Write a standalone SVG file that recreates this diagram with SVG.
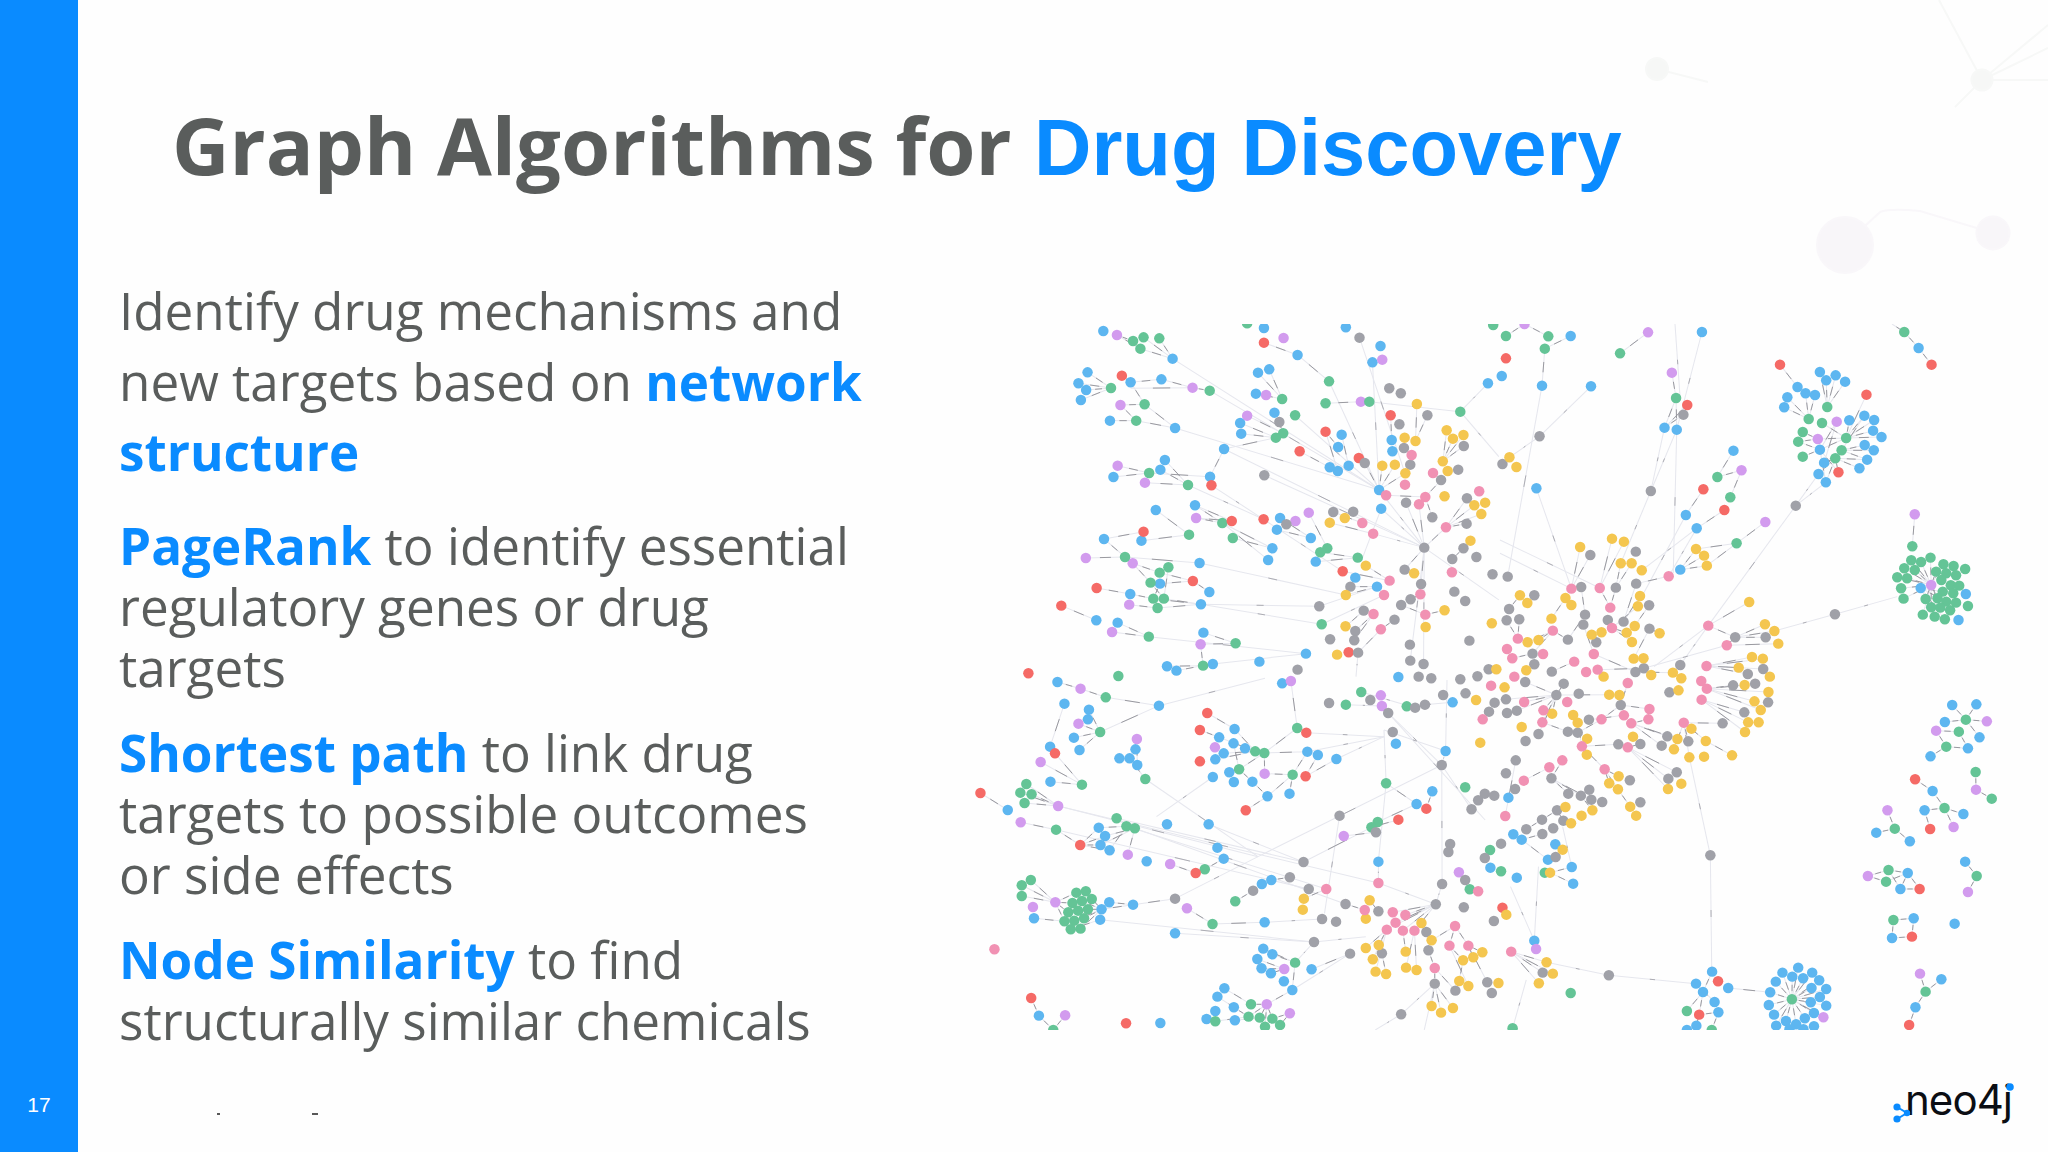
<svg xmlns="http://www.w3.org/2000/svg" width="2048" height="1152" viewBox="0 0 2048 1152">
<style>
.t{font-family:"Open Sans",sans-serif;fill:#5a5d5c}
.h{fill:#0a8bff;font-weight:700}
.b{fill:#5db6f0}.g{fill:#64c496}.r{fill:#f56a66}.p{fill:#d29bee}.a{fill:#a0a1a8}.y{fill:#f4c64f}.k{fill:#f191b3}
ellipse{rx:15px;ry:15.7px}
.edge{stroke:#e6e7ee;fill:none;stroke-width:3}
.lbl{stroke:#8f8f95;fill:none;stroke-width:2.6;stroke-dasharray:0 .36 .28 .36}
.lbl2{stroke:#a5a5ab;fill:none;stroke-width:2.6;stroke-dasharray:0 .47 .06 .47}
</style>
<defs><clipPath id="c"><rect x="950" y="324" width="1098" height="706"/></clipPath></defs>
<rect width="2048" height="1152" fill="#fefefe"/>
<g fill="#f6f7f6" stroke="#f7f8f7" stroke-width="2"><path d="M1657 69L1708 82M1982 80L1939 0M1982 80L2048 25M1982 80L2048 48M1982 80H2048M1982 80L1955 107" fill="none"/><circle cx="1657" cy="69" r="11"/><circle cx="1982" cy="80" r="10.5"/></g>
<g fill="#f8f6f9" stroke="#f9f7fa" stroke-width="2"><path d="M1865 226L1880 212Q1890 208 1920 211L1980 229" fill="none"/><circle cx="1845" cy="245" r="28"/><circle cx="1993" cy="233" r="16.5"/></g>
<rect width="78" height="1152" fill="#0a8bff"/>
<text x="39" y="1112" text-anchor="middle" font-family="Liberation Sans,sans-serif" font-size="21" fill="#fff">17</text>
<text x="172" y="175" class="t" font-size="79.5" font-weight="700">Graph Algorithms for <tspan x="1034" font-family="Liberation Sans,sans-serif" fill="#0a8bff">Drug Discovery</tspan></text>
<g font-size="51.2">
<text class="t" x="119" y="330">Identify drug mechanisms and</text>
<text class="t" x="119" y="401">new targets based on <tspan class="h">network</tspan></text>
<text class="t" x="119" y="471"><tspan class="h">structure</tspan></text>
<text class="t" x="119" y="565">
<tspan class="h">PageRank</tspan> to identify essential</text>
<text class="t" x="119" y="626">regulatory genes or drug</text>
<text class="t" x="119" y="687">targets</text>
<text class="t" x="119" y="772"><tspan class="h">Shortest path</tspan> to link drug</text>
<text class="t" x="119" y="833">targets to possible outcomes</text>
<text class="t" x="119" y="894">or side effects</text>
<text class="t" x="119" y="979"><tspan class="h">Node Similarity</tspan> to find</text>
<text class="t" x="119" y="1040">structurally similar chemicals</text>
</g>
<path d="M217 1114h3M312 1114h6" stroke="#222" stroke-width="1.5"/>
<g id="logo"><text x="1905" y="1115" font-family="Inter,sans-serif" font-size="42" font-weight="400" textLength="108" fill="#0b0e14">neo4j</text><circle cx="2010" cy="1087" r="3.8" fill="#0a8bff"/><path d="M1897 1107L1907 1113L1897 1119" stroke="#0a8bff" stroke-width="2" fill="none"/><g fill="#0a8bff"><circle cx="1897" cy="1107" r="3.6"/><circle cx="1907" cy="1113" r="3.2"/><circle cx="1897" cy="1119" r="3.6"/></g></g>
<g id="connectors" clip-path="url(#c)">
<g class="edge">
<g id="e1" transform="translate(950 300) scale(.35 .3333)">
<path pathLength="1" d="M477 105L544 146"/><path pathLength="1" d="M477 105L523 123"/><path pathLength="1" d="M553 112L636 176"/><path pathLength="1" d="M598 115L636 176"/><path pathLength="1" d="M544 146L636 176"/><path pathLength="1" d="M393 217L460 264"/><path pathLength="1" d="M367 250L460 264"/><path pathLength="1" d="M389 270L460 264"/><path pathLength="1" d="M374 300L460 264"/><path pathLength="1" d="M516 247L604 238"/><path pathLength="1" d="M516 247L556 313"/><path pathLength="1" d="M491 227L516 247"/><path pathLength="1" d="M604 238L693 263"/><path pathLength="1" d="M693 263L742 272"/><path pathLength="1" d="M516 265L693 263"/><path pathLength="1" d="M487 315L556 313"/><path pathLength="1" d="M487 315L532 362"/><path pathLength="1" d="M457 362L532 362"/><path pathLength="1" d="M532 362L643 384"/><path pathLength="1" d="M556 313L643 384"/><path pathLength="1" d="M880 218L949 297"/><path pathLength="1" d="M912 208L949 297"/><path pathLength="1" d="M874 281L949 297"/><path pathLength="1" d="M897 128L993 165"/><path pathLength="1" d="M993 165L1083 244"/><path pathLength="1" d="M849 347L952 400"/><path pathLength="1" d="M829 369L931 413"/><path pathLength="1" d="M832 401L931 413"/><path pathLength="1" d="M783 447L931 413"/><path pathLength="1" d="M783 447L743 530"/><path pathLength="1" d="M479 497L569 519"/><path pathLength="1" d="M467 531L569 519"/><path pathLength="1" d="M601 509L680 555"/><path pathLength="1" d="M614 480L680 555"/><path pathLength="1" d="M557 548L680 555"/><path pathLength="1" d="M569 519L743 530"/><path pathLength="1" d="M700 616L778 669"/><path pathLength="1" d="M703 654L778 669"/><path pathLength="1" d="M700 616L805 663"/><path pathLength="1" d="M703 654L805 663"/><path pathLength="1" d="M588 630L683 704"/><path pathLength="1" d="M553 695L440 717"/><path pathLength="1" d="M547 722L683 704"/><path pathLength="1" d="M440 717L500 771"/><path pathLength="1" d="M388 774L500 771"/><path pathLength="1" d="M522 790L599 818"/><path pathLength="1" d="M522 790L573 848"/><path pathLength="1" d="M500 771L713 789"/><path pathLength="1" d="M419 864L515 882"/><path pathLength="1" d="M515 882L581 896"/><path pathLength="1" d="M581 896L717 913"/><path pathLength="1" d="M512 914L593 924"/><path pathLength="1" d="M611 896L717 913"/><path pathLength="1" d="M593 924L717 913"/><path pathLength="1" d="M694 843L741 876"/><path pathLength="1" d="M694 843L600 851"/><path pathLength="1" d="M600 851L581 896"/><path pathLength="1" d="M573 848L611 896"/><path pathLength="1" d="M624 802L611 896"/><path pathLength="1" d="M599 818L694 843"/><path pathLength="1" d="M318 917L418 961"/><path pathLength="1" d="M463 996L568 1010"/><path pathLength="1" d="M479 968L568 1010"/><path pathLength="1" d="M724 998L816 1030"/><path pathLength="1" d="M716 1033L816 1030"/><path pathLength="1" d="M716 1033L723 1097"/><path pathLength="1" d="M620 1099L723 1097"/><path pathLength="1" d="M647 1112L723 1097"/><path pathLength="1" d="M1073 310L1174 305"/><path pathLength="1" d="M943 654L1031 714"/><path pathLength="1" d="M934 689L1031 714"/><path pathLength="1" d="M1025 638L1078 745"/><path pathLength="1" d="M921 745L808 714"/><path pathLength="1" d="M909 780L778 669"/><path pathLength="1" d="M921 745L778 669"/><path pathLength="1" d="M1045 785L1165 773"/><path pathLength="1" d="M1058 757L1165 773"/><path pathLength="1" d="M1085 502L999 454"/><path pathLength="1" d="M1108 513L1073 395"/><path pathLength="1" d="M1109 441L1073 395"/><path pathLength="1" d="M1119 404L1139 497"/><path pathLength="1" d="M1185 489L1226 570"/><path pathLength="1" d="M1226 570L1235 497"/><path pathLength="1" d="M1226 570L1271 494"/><path pathLength="1" d="M1226 570L1301 520"/><path pathLength="1" d="M1259 346L1262 420"/><path pathLength="1" d="M1334 312L1330 423"/><path pathLength="1" d="M1364 346L1330 423"/><path pathLength="1" d="M1419 391L1408 484"/><path pathLength="1" d="M1437 416L1408 484"/><path pathLength="1" d="M1467 405L1408 484"/><path pathLength="1" d="M1468 438L1408 484"/><path pathLength="1" d="M1246 586L1358 591"/><path pathLength="1" d="M1358 591L1403 540"/><path pathLength="1" d="M1358 591L1378 652"/><path pathLength="1" d="M1417 682L1477 595"/><path pathLength="1" d="M1417 682L1498 616"/><path pathLength="1" d="M1417 682L1518 642"/><path pathLength="1" d="M1417 682L1476 671"/><path pathLength="1" d="M1417 682L1355 743"/><path pathLength="1" d="M1355 743L1303 608"/><path pathLength="1" d="M1355 743L1340 613"/><path pathLength="1" d="M1355 743L1299 809"/><path pathLength="1" d="M1355 743L1346 852"/><path pathLength="1" d="M1467 745L1435 777"/><path pathLength="1" d="M1122 814L1256 842"/><path pathLength="1" d="M1144 860L1220 860"/><path pathLength="1" d="M1131 885L1220 860"/><path pathLength="1" d="M1188 797L1256 842"/><path pathLength="1" d="M1344 883L1316 898"/><path pathLength="1" d="M1289 915L1358 944"/><path pathLength="1" d="M1358 944L1413 931"/><path pathLength="1" d="M1182 932L1131 979"/><path pathLength="1" d="M1210 942L1158 993"/><path pathLength="1" d="M1210 942L1155 1021"/><path pathLength="1" d="M1231 988L1270 959"/><path pathLength="1" d="M1166 1058L1231 988"/><path pathLength="1" d="M1095 636L1178 669"/><path pathLength="1" d="M1085 668L1209 701"/>
</g>
<g id="f1" transform="translate(950 300) scale(.35 .3333)">
<path pathLength="1" d="M636 176L1226 570"/><path pathLength="1" d="M643 384L1226 570"/><path pathLength="1" d="M783 447L1355 743"/><path pathLength="1" d="M898 526L1355 743"/><path pathLength="1" d="M713 789L1131 885"/><path pathLength="1" d="M717 913L1055 919"/><path pathLength="1" d="M1055 919L1220 860"/><path pathLength="1" d="M1083 244L1226 570"/><path pathLength="1" d="M986 346L1226 570"/><path pathLength="1" d="M1207 187L1226 570"/><path pathLength="1" d="M1170 113L1300 520"/><path pathLength="1" d="M1198 305L1458 335"/><path pathLength="1" d="M1458 335L1568 470"/><path pathLength="1" d="M1537 250L1458 335"/><path pathLength="1" d="M742 272L1226 570"/><path pathLength="1" d="M568 1010L1017 1061"/><path pathLength="1" d="M680 555L896 658"/><path pathLength="1" d="M747 556L896 658"/><path pathLength="1" d="M896 658L1122 814"/><path pathLength="1" d="M1062 973L717 913"/><path pathLength="1" d="M1062 973L1240 885"/><path pathLength="1" d="M1226 570L1355 743"/><path pathLength="1" d="M1232 626L1355 743"/><path pathLength="1" d="M1232 626L1178 775"/><path pathLength="1" d="M1209 701L1355 743"/><path pathLength="1" d="M1355 743L1568 900"/><path pathLength="1" d="M1355 743L1315 1082"/><path pathLength="1" d="M1355 743L1353 1092"/><path pathLength="1" d="M751 1092L1017 1061"/><path pathLength="1" d="M1166 1058L1160 1130"/>
</g>
<g id="e2" transform="translate(1500 300) scale(.35 .3333)">
<path pathLength="1" d="M70 72L17 108"/><path pathLength="1" d="M70 72L138 109"/><path pathLength="1" d="M202 108L128 146"/><path pathLength="1" d="M128 146L120 257"/><path pathLength="1" d="M423 97L343 160"/><path pathLength="1" d="M491 218L503 294"/><path pathLength="1" d="M503 294L470 383"/><path pathLength="1" d="M503 294L505 389"/><path pathLength="1" d="M524 344L470 383"/><path pathLength="1" d="M535 315L470 383"/><path pathLength="1" d="M667 452L621 531"/><path pathLength="1" d="M621 531L690 511"/><path pathLength="1" d="M690 511L658 592"/><path pathLength="1" d="M581 568L531 645"/><path pathLength="1" d="M641 630L562 685"/><path pathLength="1" d="M758 666L676 730"/><path pathLength="1" d="M676 730L560 747"/><path pathLength="1" d="M676 730L591 797"/><path pathLength="1" d="M560 747L515 809"/><path pathLength="1" d="M583 767L515 809"/><path pathLength="1" d="M591 797L515 809"/><path pathLength="1" d="M800 194L850 261"/><path pathLength="1" d="M873 280L882 357"/><path pathLength="1" d="M900 285L882 357"/><path pathLength="1" d="M821 292L882 357"/><path pathLength="1" d="M812 322L882 357"/><path pathLength="1" d="M914 216L935 321"/><path pathLength="1" d="M932 241L935 321"/><path pathLength="1" d="M959 226L935 321"/><path pathLength="1" d="M986 245L935 321"/><path pathLength="1" d="M1047 284L989 414"/><path pathLength="1" d="M989 414L998 361"/><path pathLength="1" d="M989 414L1041 347"/><path pathLength="1" d="M989 414L1069 360"/><path pathLength="1" d="M989 414L1066 392"/><path pathLength="1" d="M989 414L1090 411"/><path pathLength="1" d="M976 451L1042 435"/><path pathLength="1" d="M976 451L1068 451"/><path pathLength="1" d="M976 451L1049 479"/><path pathLength="1" d="M958 475L1027 505"/><path pathLength="1" d="M958 475L1049 479"/><path pathLength="1" d="M976 451L1041 347"/><path pathLength="1" d="M908 417L865 396"/><path pathLength="1" d="M908 417L852 425"/><path pathLength="1" d="M914 449L865 470"/><path pathLength="1" d="M914 449L852 425"/><path pathLength="1" d="M914 449L989 414"/><path pathLength="1" d="M962 365L914 449"/><path pathLength="1" d="M962 365L926 488"/><path pathLength="1" d="M926 488L976 451"/><path pathLength="1" d="M910 522L958 475"/><path pathLength="1" d="M931 547L958 475"/><path pathLength="1" d="M967 517L958 475"/><path pathLength="1" d="M926 488L958 475"/><path pathLength="1" d="M914 449L967 517"/><path pathLength="1" d="M920 369L989 414"/><path pathLength="1" d="M931 547L914 449"/><path pathLength="1" d="M908 417L989 414"/><path pathLength="1" d="M1120 72L1155 96"/><path pathLength="1" d="M1155 96L1196 144"/><path pathLength="1" d="M1196 144L1233 194"/><path pathLength="1" d="M1185 643L1178 739"/><path pathLength="1" d="M1232 855L1175 781"/><path pathLength="1" d="M1232 855L1203 786"/><path pathLength="1" d="M1232 855L1230 773"/><path pathLength="1" d="M1232 855L1155 805"/><path pathLength="1" d="M1232 855L1185 810"/><path pathLength="1" d="M1232 855L1135 832"/><path pathLength="1" d="M1232 855L1163 835"/><path pathLength="1" d="M1232 855L1146 865"/><path pathLength="1" d="M1232 855L1153 896"/><path pathLength="1" d="M1232 855L1216 897"/><path pathLength="1" d="M1232 855L1250 895"/><path pathLength="1" d="M1232 855L1232 922"/><path pathLength="1" d="M1232 855L1208 944"/><path pathLength="1" d="M1232 855L1258 923"/><path pathLength="1" d="M1232 855L1267 793"/><path pathLength="1" d="M1232 855L1246 815"/><path pathLength="1" d="M1202 864L1242 950"/><path pathLength="1" d="M1202 864L1271 958"/><path pathLength="1" d="M1202 864L1275 905"/><path pathLength="1" d="M1202 864L1265 875"/><path pathLength="1" d="M229 741L204 866"/><path pathLength="1" d="M258 765L204 866"/><path pathLength="1" d="M320 716L285 864"/><path pathLength="1" d="M354 725L285 864"/><path pathLength="1" d="M345 790L331 863"/><path pathLength="1" d="M376 790L331 863"/><path pathLength="1" d="M482 829L389 851"/><path pathLength="1" d="M57 886L26 927"/><path pathLength="1" d="M187 894L147 956"/><path pathLength="1" d="M232 861L243 944"/><path pathLength="1" d="M285 864L315 923"/><path pathLength="1" d="M331 863L315 923"/><path pathLength="1" d="M389 851L353 965"/><path pathLength="1" d="M400 888L353 965"/><path pathLength="1" d="M394 919L320 984"/><path pathLength="1" d="M426 916L385 978"/><path pathLength="1" d="M238 974L268 1062"/><path pathLength="1" d="M243 944L194 1019"/><path pathLength="1" d="M151 992L110 1020"/><path pathLength="1" d="M151 992L79 1027"/><path pathLength="1" d="M151 992L93 1061"/><path pathLength="1" d="M151 992L194 1019"/><path pathLength="1" d="M275 1027L262 1004"/><path pathLength="1" d="M320 984L362 998"/><path pathLength="1" d="M320 984L377 1026"/><path pathLength="1" d="M427 986L456 1000"/><path pathLength="1" d="M427 986L382 1076"/><path pathLength="1" d="M595 977L672 1012"/><path pathLength="1" d="M648 1036L672 1012"/><path pathLength="1" d="M672 1012L759 1012"/><path pathLength="1" d="M672 1012L757 973"/><path pathLength="1" d="M672 1012L784 993"/><path pathLength="1" d="M648 1036L795 1031"/><path pathLength="1" d="M595 977L712 906"/><path pathLength="1" d="M590 1098L720 1071"/><path pathLength="1" d="M590 1098L751 1076"/><path pathLength="1" d="M590 1098L682 1103"/><path pathLength="1" d="M590 1098L752 1107"/><path pathLength="1" d="M590 1098L708 1122"/><path pathLength="1" d="M387 1116L268 1062"/><path pathLength="1" d="M411 1105L279 1109"/><path pathLength="1" d="M494 1118L387 1116"/><path pathLength="1" d="M51 1016L19 961"/><path pathLength="1" d="M51 1016L55 958"/><path pathLength="1" d="M35 1075L93 1061"/><path pathLength="1" d="M148 1115L212 1085"/>
</g>
<g id="f2" transform="translate(1500 300) scale(.35 .3333)">
<path pathLength="1" d="M577 96L505 389"/><path pathLength="1" d="M505 389L431 573"/><path pathLength="1" d="M470 383L431 573"/><path pathLength="1" d="M431 573L345 790"/><path pathLength="1" d="M120 257L22 830"/><path pathLength="1" d="M104 565L204 866"/><path pathLength="1" d="M113 409L260 259"/><path pathLength="1" d="M113 409L27 472"/><path pathLength="1" d="M845 617L595 977"/><path pathLength="1" d="M845 617L910 522"/><path pathLength="1" d="M845 617L931 547"/><path pathLength="1" d="M595 977L440 1100"/><path pathLength="1" d="M957 943L784 993"/><path pathLength="1" d="M957 943L1135 890"/><path pathLength="1" d="M562 685L405 811"/><path pathLength="1" d="M531 645L400 900"/><path pathLength="1" d="M562 685L482 829"/><path pathLength="1" d="M500 72L515 300"/><path pathLength="1" d="M0 760L204 866"/><path pathLength="1" d="M0 720L285 864"/><path pathLength="1" d="M595 977L515 1095"/><path pathLength="1" d="M648 1036L411 1105"/><path pathLength="1" d="M505 389L495 820"/>
</g>
<g id="e3" transform="translate(950 680) scale(.35 .3333)">
<path pathLength="1" d="M307 6L373 26"/><path pathLength="1" d="M373 26L445 52"/><path pathLength="1" d="M445 52L597 77"/><path pathLength="1" d="M327 71L286 200"/><path pathLength="1" d="M397 89L429 156"/><path pathLength="1" d="M367 131L429 156"/><path pathLength="1" d="M354 173L429 156"/><path pathLength="1" d="M370 210L429 156"/><path pathLength="1" d="M429 156L597 77"/><path pathLength="1" d="M259 246L377 314"/><path pathLength="1" d="M300 220L377 314"/><path pathLength="1" d="M287 305L377 314"/><path pathLength="1" d="M534 177L535 255"/><path pathLength="1" d="M484 235L535 255"/><path pathLength="1" d="M513 235L558 297"/><path pathLength="1" d="M735 99L813 147"/><path pathLength="1" d="M813 147L872 214"/><path pathLength="1" d="M714 150L769 172"/><path pathLength="1" d="M769 172L872 214"/><path pathLength="1" d="M810 190L826 268"/><path pathLength="1" d="M782 220L872 214"/><path pathLength="1" d="M758 238L872 214"/><path pathLength="1" d="M898 219L1021 215"/><path pathLength="1" d="M798 277L826 268"/><path pathLength="1" d="M864 305L826 268"/><path pathLength="1" d="M826 268L898 219"/><path pathLength="1" d="M899 281L898 219"/><path pathLength="1" d="M899 281L979 284"/><path pathLength="1" d="M979 284L1021 215"/><path pathLength="1" d="M1016 289L1051 225"/><path pathLength="1" d="M1016 289L1104 237"/><path pathLength="1" d="M979 284L970 341"/><path pathLength="1" d="M979 284L907 349"/><path pathLength="1" d="M907 349L864 305"/><path pathLength="1" d="M845 391L907 349"/><path pathLength="1" d="M992 144L898 219"/><path pathLength="1" d="M974 3L992 144"/><path pathLength="1" d="M87 339L165 390"/><path pathLength="1" d="M218 312L309 378"/><path pathLength="1" d="M201 338L309 378"/><path pathLength="1" d="M233 343L309 378"/><path pathLength="1" d="M213 369L309 378"/><path pathLength="1" d="M202 427L303 449"/><path pathLength="1" d="M372 495L425 443"/><path pathLength="1" d="M372 495L443 468"/><path pathLength="1" d="M372 495L430 495"/><path pathLength="1" d="M372 495L456 511"/><path pathLength="1" d="M504 439L425 443"/><path pathLength="1" d="M528 445L443 468"/><path pathLength="1" d="M528 445L430 495"/><path pathLength="1" d="M504 439L456 511"/><path pathLength="1" d="M528 445L508 524"/><path pathLength="1" d="M303 449L372 495"/><path pathLength="1" d="M629 552L702 579"/><path pathLength="1" d="M728 568L782 536"/><path pathLength="1" d="M231 600L301 667"/><path pathLength="1" d="M205 616L301 667"/><path pathLength="1" d="M205 648L301 667"/><path pathLength="1" d="M240 715L327 724"/><path pathLength="1" d="M301 667L361 638"/><path pathLength="1" d="M301 667L350 669"/><path pathLength="1" d="M301 667L338 697"/><path pathLength="1" d="M301 667L327 724"/><path pathLength="1" d="M433 688L388 634"/><path pathLength="1" d="M433 688L405 657"/><path pathLength="1" d="M433 688L377 663"/><path pathLength="1" d="M433 688L394 688"/><path pathLength="1" d="M433 688L366 692"/><path pathLength="1" d="M433 688L383 715"/><path pathLength="1" d="M433 688L355 722"/><path pathLength="1" d="M433 688L373 746"/><path pathLength="1" d="M429 719L345 748"/><path pathLength="1" d="M455 667L523 674"/><path pathLength="1" d="M433 688L523 674"/><path pathLength="1" d="M523 674L643 656"/><path pathLength="1" d="M677 685L750 732"/><path pathLength="1" d="M750 732L899 727"/><path pathLength="1" d="M866 632L815 664"/><path pathLength="1" d="M918 600L971 592"/><path pathLength="1" d="M1010 546L1204 442"/><path pathLength="1" d="M1204 442L1281 419"/><path pathLength="1" d="M1222 426L1333 372"/><path pathLength="1" d="M1217 457L1125 468"/><path pathLength="1" d="M1361 386L1378 334"/><path pathLength="1" d="M1333 372L1246 310"/><path pathLength="1" d="M1011 656L1075 627"/><path pathLength="1" d="M1130 672L1185 690"/><path pathLength="1" d="M1388 673L1265 697"/><path pathLength="1" d="M1388 673L1301 705"/><path pathLength="1" d="M1388 673L1273 728"/><path pathLength="1" d="M1388 673L1248 749"/><path pathLength="1" d="M1388 673L1294 752"/><path pathLength="1" d="M1388 673L1327 752"/><path pathLength="1" d="M1248 749L1225 795"/><path pathLength="1" d="M1248 749L1188 804"/><path pathLength="1" d="M1248 749L1208 838"/><path pathLength="1" d="M1294 752L1302 815"/><path pathLength="1" d="M1327 752L1303 863"/><path pathLength="1" d="M1327 752L1333 870"/><path pathLength="1" d="M1248 749L1216 875"/><path pathLength="1" d="M1234 820L1246 882"/><path pathLength="1" d="M1224 694L1199 661"/><path pathLength="1" d="M1443 738L1376 781"/><path pathLength="1" d="M1443 738L1427 797"/><path pathLength="1" d="M1443 738L1481 797"/><path pathLength="1" d="M1427 797L1466 841"/><path pathLength="1" d="M1481 797L1495 832"/><path pathLength="1" d="M1481 797L1521 817"/><path pathLength="1" d="M1385 864L1367 811"/><path pathLength="1" d="M1385 864L1385 911"/><path pathLength="1" d="M1385 911L1376 978"/><path pathLength="1" d="M1385 911L1403 998"/><path pathLength="1" d="M1385 911L1437 984"/><path pathLength="1" d="M1481 797L1535 907"/><path pathLength="1" d="M1466 841L1455 903"/><path pathLength="1" d="M1427 797L1481 918"/><path pathLength="1" d="M1385 864L1444 932"/><path pathLength="1" d="M1143 821L1033 868"/><path pathLength="1" d="M895 806L986 848"/><path pathLength="1" d="M921 823L986 848"/><path pathLength="1" d="M878 837L955 867"/><path pathLength="1" d="M890 865L955 867"/><path pathLength="1" d="M917 880L955 867"/><path pathLength="1" d="M986 848L978 930"/><path pathLength="1" d="M978 930L905 973"/><path pathLength="1" d="M905 973L860 973"/><path pathLength="1" d="M905 973L853 1010"/><path pathLength="1" d="M905 973L885 1013"/><path pathLength="1" d="M905 973L921 1016"/><path pathLength="1" d="M905 973L900 1040"/><path pathLength="1" d="M971 1000L943 1035"/><path pathLength="1" d="M971 1000L921 1016"/><path pathLength="1" d="M784 925L860 973"/><path pathLength="1" d="M764 950L853 1010"/><path pathLength="1" d="M811 982L853 1010"/><path pathLength="1" d="M758 1024L853 1010"/><path pathLength="1" d="M814 1021L885 1013"/><path pathLength="1" d="M232 954L254 1007"/><path pathLength="1" d="M254 1007L295 1050"/><path pathLength="1" d="M329 1006L295 1050"/>
</g>
<g id="f3" transform="translate(950 680) scale(.35 .3333)">
<path pathLength="1" d="M597 77L900 -5"/><path pathLength="1" d="M751 291L590 410"/><path pathLength="1" d="M1246 310L1240 150"/><path pathLength="1" d="M1252 99L1405 255"/><path pathLength="1" d="M1246 310L1224 545"/><path pathLength="1" d="M1405 255L1406 612"/><path pathLength="1" d="M1405 255L880 530"/><path pathLength="1" d="M880 530L643 656"/><path pathLength="1" d="M558 297L880 530"/><path pathLength="1" d="M739 433L1010 546"/><path pathLength="1" d="M309 378L880 530"/><path pathLength="1" d="M309 378L1224 609"/><path pathLength="1" d="M476 415L1010 546"/><path pathLength="1" d="M303 449L1025 627"/><path pathLength="1" d="M504 439L1075 627"/><path pathLength="1" d="M528 445L1130 672"/><path pathLength="1" d="M1224 545L1224 609"/><path pathLength="1" d="M1406 612L1388 673"/><path pathLength="1" d="M1405 255L1490 388"/><path pathLength="1" d="M1416 213L1405 255"/><path pathLength="1" d="M1416 213L1240 150"/><path pathLength="1" d="M1021 215L1240 170"/><path pathLength="1" d="M1018 158L1240 170"/><path pathLength="1" d="M1104 237L1240 170"/><path pathLength="1" d="M429 719L1040 786"/><path pathLength="1" d="M643 760L1040 786"/><path pathLength="1" d="M1040 786L1188 770"/><path pathLength="1" d="M986 848L1040 786"/><path pathLength="1" d="M978 930L1143 821"/><path pathLength="1" d="M1289 1003L1215 1050"/><path pathLength="1" d="M1385 911L1289 1003"/><path pathLength="1" d="M1385 911L1355 1050"/><path pathLength="1" d="M1224 609L1388 673"/><path pathLength="1" d="M1113 407L1070 700"/><path pathLength="1" d="M1420 0L1416 213"/><path pathLength="1" d="M1252 99L1529 420"/><path pathLength="1" d="M899 727L1063 717"/><path pathLength="1" d="M1305 79L1436 67"/><path pathLength="1" d="M1131 74L1234 78"/><path pathLength="1" d="M1175 36L1329 83"/>
</g>
<g id="e4" transform="translate(1500 680) scale(.35 .3333)">
<path pathLength="1" d="M1292 75L1331 119"/><path pathLength="1" d="M1361 73L1331 119"/><path pathLength="1" d="M1271 126L1331 119"/><path pathLength="1" d="M1391 124L1331 119"/><path pathLength="1" d="M1331 119L1370 172"/><path pathLength="1" d="M1246 152L1311 155"/><path pathLength="1" d="M1246 152L1275 200"/><path pathLength="1" d="M1311 155L1337 205"/><path pathLength="1" d="M1275 200L1337 205"/><path pathLength="1" d="M1275 200L1230 229"/><path pathLength="1" d="M1186 298L1236 333"/><path pathLength="1" d="M1236 333L1270 384"/><path pathLength="1" d="M1213 391L1270 384"/><path pathLength="1" d="M1270 384L1324 402"/><path pathLength="1" d="M1270 384L1296 441"/><path pathLength="1" d="M1213 391L1229 447"/><path pathLength="1" d="M1359 276L1360 329"/><path pathLength="1" d="M1360 329L1405 356"/><path pathLength="1" d="M1107 391L1128 446"/><path pathLength="1" d="M1075 458L1128 446"/><path pathLength="1" d="M1128 446L1171 484"/><path pathLength="1" d="M1051 588L1110 570"/><path pathLength="1" d="M1051 588L1103 605"/><path pathLength="1" d="M1110 570L1165 579"/><path pathLength="1" d="M1103 605L1165 579"/><path pathLength="1" d="M1110 570L1144 627"/><path pathLength="1" d="M1165 579L1144 627"/><path pathLength="1" d="M1165 579L1199 627"/><path pathLength="1" d="M1144 627L1199 627"/><path pathLength="1" d="M1329 545L1362 588"/><path pathLength="1" d="M1362 588L1337 636"/><path pathLength="1" d="M1124 720L1182 715"/><path pathLength="1" d="M1124 720L1120 774"/><path pathLength="1" d="M1182 715L1177 770"/><path pathLength="1" d="M1120 774L1177 770"/><path pathLength="1" d="M1200 881L1216 935"/><path pathLength="1" d="M1261 898L1216 935"/><path pathLength="1" d="M1216 935L1187 982"/><path pathLength="1" d="M1187 982L1169 1035"/><path pathLength="1" d="M834 958L852 863"/><path pathLength="1" d="M834 958L807 878"/><path pathLength="1" d="M834 958L892 878"/><path pathLength="1" d="M834 958L835 890"/><path pathLength="1" d="M834 958L866 895"/><path pathLength="1" d="M834 958L788 905"/><path pathLength="1" d="M834 958L912 901"/><path pathLength="1" d="M834 958L890 924"/><path pathLength="1" d="M834 958L932 927"/><path pathLength="1" d="M834 958L772 937"/><path pathLength="1" d="M834 958L914 951"/><path pathLength="1" d="M834 958L888 967"/><path pathLength="1" d="M834 958L932 977"/><path pathLength="1" d="M834 958L768 975"/><path pathLength="1" d="M834 958L783 1004"/><path pathLength="1" d="M834 958L897 999"/><path pathLength="1" d="M834 958L817 1023"/><path pathLength="1" d="M834 958L871 1015"/><path pathLength="1" d="M834 958L846 1033"/><path pathLength="1" d="M834 958L789 1037"/><path pathLength="1" d="M834 958L924 1012"/><path pathLength="1" d="M606 875L580 936"/><path pathLength="1" d="M560 911L613 966"/><path pathLength="1" d="M580 936L569 1004"/><path pathLength="1" d="M534 993L580 936"/><path pathLength="1" d="M569 1004L624 997"/><path pathLength="1" d="M569 1004L561 1037"/><path pathLength="1" d="M624 997L605 1050"/><path pathLength="1" d="M652 924L772 937"/><path pathLength="1" d="M32 815L133 847"/><path pathLength="1" d="M32 815L122 878"/><path pathLength="1" d="M32 815L151 881"/><path pathLength="1" d="M32 815L111 910"/><path pathLength="1" d="M161 45L17 58"/><path pathLength="1" d="M161 45L69 66"/><path pathLength="1" d="M161 45L48 92"/><path pathLength="1" d="M161 45L124 91"/><path pathLength="1" d="M161 45L149 101"/><path pathLength="1" d="M161 45L312 44"/><path pathLength="1" d="M161 45L121 127"/><path pathLength="1" d="M161 45L110 162"/><path pathLength="1" d="M161 45L72 6"/><path pathLength="1" d="M161 45L182 11"/><path pathLength="1" d="M365 9L345 75"/><path pathLength="1" d="M345 75L290 118"/><path pathLength="1" d="M345 75L427 87"/><path pathLength="1" d="M424 118L375 130"/><path pathLength="1" d="M354 106L254 119"/><path pathLength="1" d="M290 118L222 158"/><path pathLength="1" d="M194 155L121 127"/><path pathLength="1" d="M234 199L222 128"/><path pathLength="1" d="M234 199L338 193"/><path pathLength="1" d="M365 202L401 192"/><path pathLength="1" d="M375 130L478 169"/><path pathLength="1" d="M375 130L462 197"/><path pathLength="1" d="M375 130L507 177"/><path pathLength="1" d="M525 128L538 184"/><path pathLength="1" d="M525 128L497 208"/><path pathLength="1" d="M525 128L588 183"/><path pathLength="1" d="M525 128L636 130"/><path pathLength="1" d="M588 183L663 226"/><path pathLength="1" d="M541 232L525 128"/><path pathLength="1" d="M591 26L666 16"/><path pathLength="1" d="M591 26L699 15"/><path pathLength="1" d="M591 26L767 36"/><path pathLength="1" d="M591 26L727 64"/><path pathLength="1" d="M591 26L745 90"/><path pathLength="1" d="M576 59L698 97"/><path pathLength="1" d="M576 59L709 127"/><path pathLength="1" d="M576 59L700 156"/><path pathLength="1" d="M299 268L339 289"/><path pathLength="1" d="M299 268L312 310"/><path pathLength="1" d="M299 268L337 328"/><path pathLength="1" d="M234 199L299 268"/><path pathLength="1" d="M337 328L372 380"/><path pathLength="1" d="M365 202L505 277"/><path pathLength="1" d="M365 202L481 296"/><path pathLength="1" d="M365 202L480 327"/><path pathLength="1" d="M178 241L147 295"/><path pathLength="1" d="M141 262L68 302"/><path pathLength="1" d="M147 295L195 341"/><path pathLength="1" d="M147 295L231 347"/><path pathLength="1" d="M147 295L261 359"/><path pathLength="1" d="M163 391L120 419"/><path pathLength="1" d="M163 391L181 422"/><path pathLength="1" d="M231 347L264 391"/><path pathLength="1" d="M120 419L75 448"/><path pathLength="1" d="M121 462L62 479"/><path pathLength="1" d="M62 479L137 539"/><path pathLength="1" d="M143 578L205 561"/><path pathLength="1" d="M143 578L209 611"/><path pathLength="1" d="M15 408L45 241"/>
</g>
<g id="f4" transform="translate(1500 680) scale(.35 .3333)">
<path pathLength="1" d="M560 911L311 886"/><path pathLength="1" d="M311 886L133 847"/><path pathLength="1" d="M601 526L605 875"/><path pathLength="1" d="M601 526L541 232"/><path pathLength="1" d="M98 782L110 560"/><path pathLength="1" d="M98 782L30 620"/><path pathLength="1" d="M75 900L36 1045"/><path pathLength="1" d="M179 440L205 561"/>
</g>
</g>
<g class="lbl"><use href="#e1"/><use href="#e2"/><use href="#e3"/><use href="#e4"/></g>
<g class="lbl2"><use href="#f1"/><use href="#f2"/><use href="#f3"/><use href="#f4"/></g>
</g>
<g id="nodes" clip-path="url(#c)">
<g transform="translate(950 300) scale(.35 .3333)">
<g id="ab1"><ellipse class="b" cx="438" cy="93"/></g><g id="ab2"><ellipse class="b" cx="897" cy="84"/></g><g id="ab3"><ellipse class="b" cx="1131" cy="82"/></g><g id="ab4"><ellipse class="b" cx="1230" cy="138"/></g><g id="ab5"><ellipse class="b" cx="636" cy="176"/></g><g id="ab6"><ellipse class="b" cx="993" cy="165"/></g><g id="ab7"><ellipse class="b" cx="1207" cy="187"/></g><g id="ab8"><ellipse class="b" cx="393" cy="217"/></g><g id="ab9"><ellipse class="b" cx="367" cy="250"/></g><g id="ab10"><ellipse class="b" cx="389" cy="270"/></g><g id="ab11"><ellipse class="b" cx="374" cy="300"/></g><g id="ab12"><ellipse class="b" cx="516" cy="247"/></g><g id="ab13"><ellipse class="b" cx="604" cy="238"/></g><g id="ab14"><ellipse class="b" cx="880" cy="218"/></g><g id="ab15"><ellipse class="b" cx="912" cy="208"/></g><g id="ab16"><ellipse class="b" cx="1537" cy="250"/></g><g id="ab17"><ellipse class="b" cx="874" cy="281"/></g><g id="ab18"><ellipse class="b" cx="927" cy="338"/></g><g id="ab19"><ellipse class="b" cx="829" cy="369"/></g><g id="ab20"><ellipse class="b" cx="832" cy="401"/></g><g id="ab21"><ellipse class="b" cx="457" cy="362"/></g><g id="ab22"><ellipse class="b" cx="643" cy="384"/></g><g id="ab23"><ellipse class="b" cx="1119" cy="404"/></g><g id="ab24"><ellipse class="b" cx="1109" cy="441"/></g><g id="ab25"><ellipse class="b" cx="1262" cy="420"/></g><g id="ab26"><ellipse class="b" cx="1264" cy="454"/></g><g id="ab27"><ellipse class="b" cx="783" cy="447"/></g><g id="ab28"><ellipse class="b" cx="614" cy="480"/></g><g id="ab29"><ellipse class="b" cx="601" cy="509"/></g><g id="ab30"><ellipse class="b" cx="467" cy="531"/></g><g id="ab31"><ellipse class="b" cx="743" cy="530"/></g><g id="ab32"><ellipse class="b" cx="1085" cy="502"/></g><g id="ab33"><ellipse class="b" cx="1108" cy="513"/></g><g id="ab34"><ellipse class="b" cx="1139" cy="497"/></g><g id="ab35"><ellipse class="b" cx="1226" cy="570"/></g><g id="ab36"><ellipse class="b" cx="1232" cy="626"/></g><g id="ab37"><ellipse class="b" cx="700" cy="616"/></g><g id="ab38"><ellipse class="b" cx="588" cy="630"/></g><g id="ab39"><ellipse class="b" cx="943" cy="654"/></g><g id="ab40"><ellipse class="b" cx="934" cy="689"/></g><g id="ab41"><ellipse class="b" cx="1031" cy="714"/></g><g id="ab42"><ellipse class="b" cx="440" cy="717"/></g><g id="ab43"><ellipse class="b" cx="547" cy="722"/></g><g id="ab44"><ellipse class="b" cx="921" cy="745"/></g><g id="ab45"><ellipse class="b" cx="909" cy="780"/></g><g id="ab46"><ellipse class="b" cx="1045" cy="785"/></g><g id="ab47"><ellipse class="b" cx="713" cy="789"/></g><g id="ab48"><ellipse class="b" cx="1158" cy="833"/></g><g id="ab49"><ellipse class="b" cx="1220" cy="860"/></g><g id="ab50"><ellipse class="b" cx="600" cy="851"/></g><g id="ab51"><ellipse class="b" cx="515" cy="882"/></g><g id="ab52"><ellipse class="b" cx="741" cy="876"/></g><g id="ab53"><ellipse class="b" cx="717" cy="913"/></g><g id="ab54"><ellipse class="b" cx="418" cy="961"/></g><g id="ab55"><ellipse class="b" cx="479" cy="968"/></g><g id="ab56"><ellipse class="b" cx="724" cy="998"/></g><g id="ab57"><ellipse class="b" cx="1017" cy="1061"/></g><g id="ab58"><ellipse class="b" cx="884" cy="1085"/></g><g id="ab59"><ellipse class="b" cx="751" cy="1092"/></g><g id="ab60"><ellipse class="b" cx="620" cy="1099"/></g><g id="ab61"><ellipse class="b" cx="647" cy="1112"/></g><g id="ab62"><ellipse class="b" cx="1281" cy="1131"/></g>
<g id="ap1"><ellipse class="p" cx="477" cy="105"/></g><g id="ap2"><ellipse class="p" cx="953" cy="114"/></g><g id="ap3"><ellipse class="p" cx="1235" cy="179"/></g><g id="ap4"><ellipse class="p" cx="693" cy="263"/></g><g id="ap5"><ellipse class="p" cx="903" cy="285"/></g><g id="ap6"><ellipse class="p" cx="1174" cy="305"/></g><g id="ap7"><ellipse class="p" cx="487" cy="315"/></g><g id="ap8"><ellipse class="p" cx="849" cy="347"/></g><g id="ap9"><ellipse class="p" cx="479" cy="497"/></g><g id="ap10"><ellipse class="p" cx="557" cy="548"/></g><g id="ap11"><ellipse class="p" cx="703" cy="654"/></g><g id="ap12"><ellipse class="p" cx="987" cy="663"/></g><g id="ap13"><ellipse class="p" cx="1025" cy="638"/></g><g id="ap14"><ellipse class="p" cx="388" cy="774"/></g><g id="ap15"><ellipse class="p" cx="522" cy="790"/></g><g id="ap16"><ellipse class="p" cx="512" cy="914"/></g><g id="ap17"><ellipse class="p" cx="463" cy="996"/></g><g id="ap18"><ellipse class="p" cx="716" cy="1033"/></g>
<g id="ag1"><ellipse class="g" cx="849" cy="70"/></g><g id="ag2"><ellipse class="g" cx="1552" cy="75"/></g><g id="ag3"><ellipse class="g" cx="553" cy="112"/></g><g id="ag4"><ellipse class="g" cx="598" cy="115"/></g><g id="ag5"><ellipse class="g" cx="523" cy="123"/></g><g id="ag6"><ellipse class="g" cx="544" cy="146"/></g><g id="ag7"><ellipse class="g" cx="1083" cy="244"/></g><g id="ag8"><ellipse class="g" cx="460" cy="264"/></g><g id="ag9"><ellipse class="g" cx="742" cy="272"/></g><g id="ag10"><ellipse class="g" cx="949" cy="297"/></g><g id="ag11"><ellipse class="g" cx="1198" cy="305"/></g><g id="ag12"><ellipse class="g" cx="1073" cy="310"/></g><g id="ag13"><ellipse class="g" cx="556" cy="313"/></g><g id="ag14"><ellipse class="g" cx="986" cy="346"/></g><g id="ag15"><ellipse class="g" cx="1458" cy="335"/></g><g id="ag16"><ellipse class="g" cx="532" cy="362"/></g><g id="ag17"><ellipse class="g" cx="952" cy="400"/></g><g id="ag18"><ellipse class="g" cx="931" cy="413"/></g><g id="ag19"><ellipse class="g" cx="569" cy="519"/></g><g id="ag20"><ellipse class="g" cx="680" cy="555"/></g><g id="ag21"><ellipse class="g" cx="778" cy="669"/></g><g id="ag22"><ellipse class="g" cx="683" cy="704"/></g><g id="ag23"><ellipse class="g" cx="808" cy="714"/></g><g id="ag24"><ellipse class="g" cx="1078" cy="745"/></g><g id="ag25"><ellipse class="g" cx="1058" cy="757"/></g><g id="ag26"><ellipse class="g" cx="1165" cy="773"/></g><g id="ag27"><ellipse class="g" cx="500" cy="771"/></g><g id="ag28"><ellipse class="g" cx="624" cy="802"/></g><g id="ag29"><ellipse class="g" cx="599" cy="818"/></g><g id="ag30"><ellipse class="g" cx="573" cy="848"/></g><g id="ag31"><ellipse class="g" cx="581" cy="896"/></g><g id="ag32"><ellipse class="g" cx="611" cy="896"/></g><g id="ag33"><ellipse class="g" cx="593" cy="924"/></g><g id="ag34"><ellipse class="g" cx="1062" cy="973"/></g><g id="ag35"><ellipse class="g" cx="568" cy="1010"/></g><g id="ag36"><ellipse class="g" cx="816" cy="1030"/></g><g id="ag37"><ellipse class="g" cx="723" cy="1097"/></g><g id="ag38"><ellipse class="g" cx="481" cy="1128"/></g>
<g id="ar1"><ellipse class="r" cx="897" cy="128"/></g><g id="ar2"><ellipse class="r" cx="491" cy="227"/></g><g id="ar3"><ellipse class="r" cx="1259" cy="346"/></g><g id="ar4"><ellipse class="r" cx="1073" cy="395"/></g><g id="ar5"><ellipse class="r" cx="999" cy="454"/></g><g id="ar6"><ellipse class="r" cx="1168" cy="474"/></g><g id="ar7"><ellipse class="r" cx="747" cy="556"/></g><g id="ar8"><ellipse class="r" cx="805" cy="663"/></g><g id="ar9"><ellipse class="r" cx="896" cy="658"/></g><g id="ar10"><ellipse class="r" cx="553" cy="695"/></g><g id="ar11"><ellipse class="r" cx="1122" cy="814"/></g><g id="ar12"><ellipse class="r" cx="694" cy="843"/></g><g id="ar13"><ellipse class="r" cx="419" cy="864"/></g><g id="ar14"><ellipse class="r" cx="318" cy="917"/></g><g id="ar15"><ellipse class="r" cx="1139" cy="1057"/></g><g id="ar16"><ellipse class="r" cx="224" cy="1120"/></g>
<g id="aa1"><ellipse class="a" cx="1170" cy="113"/></g><g id="aa2"><ellipse class="a" cx="1255" cy="265"/></g><g id="aa3"><ellipse class="a" cx="1288" cy="280"/></g><g id="aa4"><ellipse class="a" cx="1364" cy="346"/></g><g id="aa5"><ellipse class="a" cx="1284" cy="373"/></g><g id="aa6"><ellipse class="a" cx="941" cy="366"/></g><g id="aa7"><ellipse class="a" cx="1297" cy="444"/></g><g id="aa8"><ellipse class="a" cx="1468" cy="438"/></g><g id="aa9"><ellipse class="a" cx="1185" cy="489"/></g><g id="aa10"><ellipse class="a" cx="1315" cy="494"/></g><g id="aa11"><ellipse class="a" cx="1452" cy="509"/></g><g id="aa12"><ellipse class="a" cx="898" cy="526"/></g><g id="aa13"><ellipse class="a" cx="1403" cy="540"/></g><g id="aa14"><ellipse class="a" cx="1477" cy="595"/></g><g id="aa15"><ellipse class="a" cx="1303" cy="608"/></g><g id="aa16"><ellipse class="a" cx="1378" cy="652"/></g><g id="aa17"><ellipse class="a" cx="1095" cy="636"/></g><g id="aa18"><ellipse class="a" cx="1152" cy="635"/></g><g id="aa19"><ellipse class="a" cx="961" cy="673"/></g><g id="aa20"><ellipse class="a" cx="1476" cy="671"/></g><g id="aa21"><ellipse class="a" cx="1355" cy="743"/></g><g id="aa22"><ellipse class="a" cx="1467" cy="745"/></g><g id="aa23"><ellipse class="a" cx="1504" cy="771"/></g><g id="aa24"><ellipse class="a" cx="1435" cy="777"/></g><g id="aa25"><ellipse class="a" cx="1299" cy="809"/></g><g id="aa26"><ellipse class="a" cx="1550" cy="823"/></g><g id="aa27"><ellipse class="a" cx="1346" cy="852"/></g><g id="aa28"><ellipse class="a" cx="1144" cy="860"/></g><g id="aa29"><ellipse class="a" cx="1441" cy="875"/></g><g id="aa30"><ellipse class="a" cx="1472" cy="903"/></g><g id="aa31"><ellipse class="a" cx="1316" cy="898"/></g><g id="aa32"><ellipse class="a" cx="1289" cy="915"/></g><g id="aa33"><ellipse class="a" cx="1055" cy="919"/></g><g id="aa34"><ellipse class="a" cx="1182" cy="932"/></g><g id="aa35"><ellipse class="a" cx="1270" cy="959"/></g><g id="aa36"><ellipse class="a" cx="1158" cy="993"/></g><g id="aa37"><ellipse class="a" cx="1155" cy="1021"/></g><g id="aa38"><ellipse class="a" cx="1086" cy="1018"/></g><g id="aa39"><ellipse class="a" cx="1166" cy="1058"/></g><g id="aa40"><ellipse class="a" cx="1314" cy="1034"/></g><g id="aa41"><ellipse class="a" cx="1484" cy="1022"/></g><g id="aa42"><ellipse class="a" cx="1315" cy="1082"/></g><g id="aa43"><ellipse class="a" cx="1353" cy="1092"/></g><g id="aa44"><ellipse class="a" cx="993" cy="1109"/></g><g id="aa45"><ellipse class="a" cx="1539" cy="1108"/></g><g id="aa46"><ellipse class="a" cx="1507" cy="1129"/></g><g id="aa47"><ellipse class="a" cx="1339" cy="1130"/></g><g id="aa48"><ellipse class="a" cx="1375" cy="1135"/></g><g id="aa49"><ellipse class="a" cx="1458" cy="1138"/></g>
<g id="ay1"><ellipse class="y" cx="1334" cy="312"/></g><g id="ay2"><ellipse class="y" cx="1419" cy="391"/></g><g id="ay3"><ellipse class="y" cx="1437" cy="416"/></g><g id="ay4"><ellipse class="y" cx="1467" cy="405"/></g><g id="ay5"><ellipse class="y" cx="1299" cy="413"/></g><g id="ay6"><ellipse class="y" cx="1330" cy="423"/></g><g id="ay7"><ellipse class="y" cx="1408" cy="484"/></g><g id="ay8"><ellipse class="y" cx="1235" cy="497"/></g><g id="ay9"><ellipse class="y" cx="1271" cy="494"/></g><g id="ay10"><ellipse class="y" cx="1422" cy="513"/></g><g id="ay11"><ellipse class="y" cx="1301" cy="520"/></g><g id="ay12"><ellipse class="y" cx="1413" cy="589"/></g><g id="ay13"><ellipse class="y" cx="1128" cy="654"/></g><g id="ay14"><ellipse class="y" cx="1085" cy="668"/></g><g id="ay15"><ellipse class="y" cx="1498" cy="616"/></g><g id="ay16"><ellipse class="y" cx="1529" cy="608"/></g><g id="ay17"><ellipse class="y" cx="1518" cy="642"/></g><g id="ay18"><ellipse class="y" cx="1487" cy="722"/></g><g id="ay19"><ellipse class="y" cx="1188" cy="797"/></g><g id="ay20"><ellipse class="y" cx="1326" cy="820"/></g><g id="ay21"><ellipse class="y" cx="1131" cy="885"/></g><g id="ay22"><ellipse class="y" cx="1413" cy="931"/></g><g id="ay23"><ellipse class="y" cx="1130" cy="979"/></g><g id="ay24"><ellipse class="y" cx="1359" cy="981"/></g><g id="ay25"><ellipse class="y" cx="1548" cy="970"/></g><g id="ay26"><ellipse class="y" cx="1106" cy="1064"/></g><g id="ay27"><ellipse class="y" cx="1561" cy="1108"/></g>
<g id="ak1"><ellipse class="k" cx="1319" cy="465"/></g><g id="ak2"><ellipse class="k" cx="1380" cy="519"/></g><g id="ak3"><ellipse class="k" cx="1300" cy="554"/></g><g id="ak4"><ellipse class="k" cx="1246" cy="586"/></g><g id="ak5"><ellipse class="k" cx="1358" cy="591"/></g><g id="ak6"><ellipse class="k" cx="1340" cy="613"/></g><g id="ak7"><ellipse class="k" cx="1512" cy="574"/></g><g id="ak8"><ellipse class="k" cx="1178" cy="669"/></g><g id="ak9"><ellipse class="k" cx="1209" cy="701"/></g><g id="ak10"><ellipse class="k" cx="1417" cy="682"/></g><g id="ak11"><ellipse class="k" cx="1434" cy="817"/></g><g id="ak12"><ellipse class="k" cx="1256" cy="842"/></g><g id="ak13"><ellipse class="k" cx="1240" cy="885"/></g><g id="ak14"><ellipse class="k" cx="1344" cy="883"/></g><g id="ak15"><ellipse class="k" cx="1358" cy="944"/></g><g id="ak16"><ellipse class="k" cx="1210" cy="942"/></g><g id="ak17"><ellipse class="k" cx="1231" cy="988"/></g>
</g>
<g transform="translate(1500 300) scale(.35 .3333)">
<g id="bb1"><ellipse class="b" cx="202" cy="108"/></g><g id="bb2"><ellipse class="b" cx="5" cy="228"/></g><g id="bb3"><ellipse class="b" cx="120" cy="257"/></g><g id="bb4"><ellipse class="b" cx="260" cy="259"/></g><g id="bb5"><ellipse class="b" cx="577" cy="96"/></g><g id="bb6"><ellipse class="b" cx="470" cy="383"/></g><g id="bb7"><ellipse class="b" cx="505" cy="389"/></g><g id="bb8"><ellipse class="b" cx="104" cy="565"/></g><g id="bb9"><ellipse class="b" cx="667" cy="452"/></g><g id="bb10"><ellipse class="b" cx="531" cy="645"/></g><g id="bb11"><ellipse class="b" cx="562" cy="685"/></g><g id="bb12"><ellipse class="b" cx="515" cy="809"/></g><g id="bb13"><ellipse class="b" cx="850" cy="261"/></g><g id="bb14"><ellipse class="b" cx="873" cy="280"/></g><g id="bb15"><ellipse class="b" cx="900" cy="285"/></g><g id="bb16"><ellipse class="b" cx="914" cy="216"/></g><g id="bb17"><ellipse class="b" cx="932" cy="241"/></g><g id="bb18"><ellipse class="b" cx="959" cy="226"/></g><g id="bb19"><ellipse class="b" cx="986" cy="245"/></g><g id="bb20"><ellipse class="b" cx="821" cy="292"/></g><g id="bb21"><ellipse class="b" cx="812" cy="322"/></g><g id="bb22"><ellipse class="b" cx="998" cy="361"/></g><g id="bb23"><ellipse class="b" cx="1041" cy="347"/></g><g id="bb24"><ellipse class="b" cx="1069" cy="360"/></g><g id="bb25"><ellipse class="b" cx="1066" cy="392"/></g><g id="bb26"><ellipse class="b" cx="1090" cy="411"/></g><g id="bb27"><ellipse class="b" cx="1042" cy="435"/></g><g id="bb28"><ellipse class="b" cx="1068" cy="451"/></g><g id="bb29"><ellipse class="b" cx="1049" cy="479"/></g><g id="bb30"><ellipse class="b" cx="1027" cy="505"/></g><g id="bb31"><ellipse class="b" cx="914" cy="449"/></g><g id="bb32"><ellipse class="b" cx="926" cy="488"/></g><g id="bb33"><ellipse class="b" cx="910" cy="522"/></g><g id="bb34"><ellipse class="b" cx="931" cy="547"/></g><g id="bb35"><ellipse class="b" cx="1196" cy="144"/></g><g id="bb36"><ellipse class="b" cx="1331" cy="882"/></g><g id="bb37"><ellipse class="b" cx="1310" cy="960"/></g>
<g id="bp1"><ellipse class="p" cx="70" cy="72"/></g><g id="bp2"><ellipse class="p" cx="423" cy="97"/></g><g id="bp3"><ellipse class="p" cx="491" cy="218"/></g><g id="bp4"><ellipse class="p" cx="690" cy="511"/></g><g id="bp5"><ellipse class="p" cx="758" cy="666"/></g><g id="bp6"><ellipse class="p" cx="962" cy="365"/></g><g id="bp7"><ellipse class="p" cx="908" cy="417"/></g><g id="bp8"><ellipse class="p" cx="1185" cy="643"/></g>
<g id="bg1"><ellipse class="g" cx="17" cy="108"/></g><g id="bg2"><ellipse class="g" cx="138" cy="109"/></g><g id="bg3"><ellipse class="g" cx="128" cy="146"/></g><g id="bg4"><ellipse class="g" cx="343" cy="160"/></g><g id="bg5"><ellipse class="g" cx="503" cy="294"/></g><g id="bg6"><ellipse class="g" cx="621" cy="531"/></g><g id="bg7"><ellipse class="g" cx="658" cy="592"/></g><g id="bg8"><ellipse class="g" cx="676" cy="730"/></g><g id="bg9"><ellipse class="g" cx="1155" cy="96"/></g><g id="bg10"><ellipse class="g" cx="935" cy="321"/></g><g id="bg11"><ellipse class="g" cx="882" cy="357"/></g><g id="bg12"><ellipse class="g" cx="920" cy="369"/></g><g id="bg13"><ellipse class="g" cx="865" cy="396"/></g><g id="bg14"><ellipse class="g" cx="852" cy="425"/></g><g id="bg15"><ellipse class="g" cx="989" cy="414"/></g><g id="bg16"><ellipse class="g" cx="976" cy="451"/></g><g id="bg17"><ellipse class="g" cx="958" cy="475"/></g><g id="bg18"><ellipse class="g" cx="865" cy="470"/></g><g id="bg19"><ellipse class="g" cx="1178" cy="739"/></g><g id="bg20"><ellipse class="g" cx="1175" cy="781"/></g><g id="bg21"><ellipse class="g" cx="1203" cy="786"/></g><g id="bg22"><ellipse class="g" cx="1230" cy="773"/></g><g id="bg23"><ellipse class="g" cx="1267" cy="793"/></g><g id="bg24"><ellipse class="g" cx="1296" cy="798"/></g><g id="bg25"><ellipse class="g" cx="1155" cy="805"/></g><g id="bg26"><ellipse class="g" cx="1185" cy="810"/></g><g id="bg27"><ellipse class="g" cx="1246" cy="815"/></g><g id="bg28"><ellipse class="g" cx="1329" cy="807"/></g><g id="bg29"><ellipse class="g" cx="1135" cy="832"/></g><g id="bg30"><ellipse class="g" cx="1163" cy="835"/></g><g id="bg31"><ellipse class="g" cx="1275" cy="820"/></g><g id="bg32"><ellipse class="g" cx="1303" cy="826"/></g><g id="bg33"><ellipse class="g" cx="1261" cy="840"/></g><g id="bg34"><ellipse class="g" cx="1288" cy="856"/></g><g id="bg35"><ellipse class="g" cx="1312" cy="857"/></g><g id="bg36"><ellipse class="g" cx="1146" cy="865"/></g><g id="bg37"><ellipse class="g" cx="1265" cy="875"/></g><g id="bg38"><ellipse class="g" cx="1295" cy="880"/></g><g id="bg39"><ellipse class="g" cx="1153" cy="896"/></g><g id="bg40"><ellipse class="g" cx="1216" cy="897"/></g><g id="bg41"><ellipse class="g" cx="1250" cy="895"/></g><g id="bg42"><ellipse class="g" cx="1275" cy="905"/></g><g id="bg43"><ellipse class="g" cx="1303" cy="908"/></g><g id="bg44"><ellipse class="g" cx="1337" cy="918"/></g><g id="bg45"><ellipse class="g" cx="1232" cy="922"/></g><g id="bg46"><ellipse class="g" cx="1258" cy="923"/></g><g id="bg47"><ellipse class="g" cx="1286" cy="931"/></g><g id="bg48"><ellipse class="g" cx="1208" cy="944"/></g><g id="bg49"><ellipse class="g" cx="1242" cy="950"/></g><g id="bg50"><ellipse class="g" cx="1271" cy="958"/></g>
<g id="bb38"><ellipse class="b" cx="1202" cy="864"/></g><g id="bp9"><ellipse class="p" cx="1232" cy="855"/></g>
<g id="br1"><ellipse class="r" cx="17" cy="175"/></g><g id="br2"><ellipse class="r" cx="535" cy="315"/></g><g id="br3"><ellipse class="r" cx="800" cy="194"/></g><g id="br4"><ellipse class="r" cx="581" cy="568"/></g><g id="br5"><ellipse class="r" cx="641" cy="630"/></g><g id="br6"><ellipse class="r" cx="1047" cy="284"/></g><g id="br7"><ellipse class="r" cx="967" cy="517"/></g><g id="br8"><ellipse class="r" cx="1233" cy="194"/></g>
<g id="ba1"><ellipse class="a" cx="113" cy="409"/></g><g id="ba2"><ellipse class="a" cx="524" cy="344"/></g><g id="ba3"><ellipse class="a" cx="431" cy="573"/></g><g id="ba4"><ellipse class="a" cx="845" cy="617"/></g><g id="ba5"><ellipse class="a" cx="22" cy="830"/></g><g id="ba6"><ellipse class="a" cx="258" cy="765"/></g><g id="ba7"><ellipse class="a" cx="388" cy="755"/></g><g id="ba8"><ellipse class="a" cx="7" cy="492"/></g><g id="ba9"><ellipse class="a" cx="98" cy="886"/></g><g id="ba10"><ellipse class="a" cx="232" cy="861"/></g><g id="ba11"><ellipse class="a" cx="331" cy="863"/></g><g id="ba12"><ellipse class="a" cx="389" cy="851"/></g><g id="ba13"><ellipse class="a" cx="426" cy="916"/></g><g id="ba14"><ellipse class="a" cx="26" cy="927"/></g><g id="ba15"><ellipse class="a" cx="19" cy="961"/></g><g id="ba16"><ellipse class="a" cx="55" cy="958"/></g><g id="ba17"><ellipse class="a" cx="243" cy="944"/></g><g id="ba18"><ellipse class="a" cx="238" cy="974"/></g><g id="ba19"><ellipse class="a" cx="308" cy="960"/></g><g id="ba20"><ellipse class="a" cx="353" cy="965"/></g><g id="ba21"><ellipse class="a" cx="427" cy="986"/></g><g id="ba22"><ellipse class="a" cx="672" cy="1012"/></g><g id="ba23"><ellipse class="a" cx="759" cy="1012"/></g><g id="ba24"><ellipse class="a" cx="957" cy="943"/></g><g id="ba25"><ellipse class="a" cx="194" cy="1019"/></g><g id="ba26"><ellipse class="a" cx="275" cy="1027"/></g><g id="ba27"><ellipse class="a" cx="93" cy="1061"/></g><g id="ba28"><ellipse class="a" cx="98" cy="1093"/></g><g id="ba29"><ellipse class="a" cx="148" cy="1115"/></g><g id="ba30"><ellipse class="a" cx="515" cy="1095"/></g><g id="ba31"><ellipse class="a" cx="752" cy="1107"/></g><g id="ba32"><ellipse class="a" cx="708" cy="1122"/></g><g id="ba33"><ellipse class="a" cx="387" cy="1116"/></g><g id="ba34"><ellipse class="a" cx="411" cy="1105"/></g>
<g id="by1"><ellipse class="y" cx="27" cy="472"/></g><g id="by2"><ellipse class="y" cx="47" cy="501"/></g><g id="by3"><ellipse class="y" cx="229" cy="741"/></g><g id="by4"><ellipse class="y" cx="320" cy="716"/></g><g id="by5"><ellipse class="y" cx="354" cy="725"/></g><g id="by6"><ellipse class="y" cx="345" cy="790"/></g><g id="by7"><ellipse class="y" cx="376" cy="790"/></g><g id="by8"><ellipse class="y" cx="405" cy="811"/></g><g id="by9"><ellipse class="y" cx="560" cy="747"/></g><g id="by10"><ellipse class="y" cx="583" cy="767"/></g><g id="by11"><ellipse class="y" cx="591" cy="797"/></g><g id="by12"><ellipse class="y" cx="57" cy="886"/></g><g id="by13"><ellipse class="y" cx="78" cy="909"/></g><g id="by14"><ellipse class="y" cx="187" cy="894"/></g><g id="by15"><ellipse class="y" cx="204" cy="915"/></g><g id="by16"><ellipse class="y" cx="400" cy="888"/></g><g id="by17"><ellipse class="y" cx="394" cy="919"/></g><g id="by18"><ellipse class="y" cx="712" cy="906"/></g><g id="by19"><ellipse class="y" cx="147" cy="956"/></g><g id="by20"><ellipse class="y" cx="385" cy="978"/></g><g id="by21"><ellipse class="y" cx="262" cy="1004"/></g><g id="by22"><ellipse class="y" cx="290" cy="997"/></g><g id="by23"><ellipse class="y" cx="362" cy="998"/></g><g id="by24"><ellipse class="y" cx="456" cy="1000"/></g><g id="by25"><ellipse class="y" cx="377" cy="1026"/></g><g id="by26"><ellipse class="y" cx="757" cy="973"/></g><g id="by27"><ellipse class="y" cx="784" cy="993"/></g><g id="by28"><ellipse class="y" cx="795" cy="1031"/></g><g id="by29"><ellipse class="y" cx="79" cy="1027"/></g><g id="by30"><ellipse class="y" cx="110" cy="1020"/></g><g id="by31"><ellipse class="y" cx="382" cy="1076"/></g><g id="by32"><ellipse class="y" cx="410" cy="1075"/></g><g id="by33"><ellipse class="y" cx="720" cy="1071"/></g><g id="by34"><ellipse class="y" cx="751" cy="1076"/></g><g id="by35"><ellipse class="y" cx="682" cy="1103"/></g><g id="by36"><ellipse class="y" cx="75" cy="1111"/></g><g id="by37"><ellipse class="y" cx="494" cy="1118"/></g><g id="by38"><ellipse class="y" cx="432" cy="1125"/></g><g id="by39"><ellipse class="y" cx="771" cy="1130"/></g><g id="by40"><ellipse class="y" cx="296" cy="1130"/></g><g id="by41"><ellipse class="y" cx="518" cy="1135"/></g>
<g id="bk1"><ellipse class="k" cx="482" cy="829"/></g><g id="bk2"><ellipse class="k" cx="204" cy="866"/></g><g id="bk3"><ellipse class="k" cx="285" cy="864"/></g><g id="bk4"><ellipse class="k" cx="315" cy="923"/></g><g id="bk5"><ellipse class="k" cx="320" cy="984"/></g><g id="bk6"><ellipse class="k" cx="595" cy="977"/></g><g id="bk7"><ellipse class="k" cx="151" cy="992"/></g><g id="bk8"><ellipse class="k" cx="51" cy="1016"/></g><g id="bk9"><ellipse class="k" cx="648" cy="1036"/></g><g id="bk10"><ellipse class="k" cx="20" cy="1047"/></g><g id="bk11"><ellipse class="k" cx="123" cy="1062"/></g><g id="bk12"><ellipse class="k" cx="268" cy="1062"/></g><g id="bk13"><ellipse class="k" cx="35" cy="1075"/></g><g id="bk14"><ellipse class="k" cx="212" cy="1085"/></g><g id="bk15"><ellipse class="k" cx="590" cy="1098"/></g><g id="bk16"><ellipse class="k" cx="246" cy="1116"/></g><g id="bk17"><ellipse class="k" cx="279" cy="1109"/></g><g id="bk18"><ellipse class="k" cx="41" cy="1130"/></g>
</g>
<g transform="translate(950 680) scale(.35 .3333)">
<g id="cb1"><ellipse class="b" cx="307" cy="6"/></g><g id="cb2"><ellipse class="b" cx="949" cy="10"/></g><g id="cb3"><ellipse class="b" cx="327" cy="71"/></g><g id="cb4"><ellipse class="b" cx="597" cy="77"/></g><g id="cb5"><ellipse class="b" cx="397" cy="89"/></g><g id="cb6"><ellipse class="b" cx="394" cy="118"/></g><g id="cb7"><ellipse class="b" cx="354" cy="173"/></g><g id="cb8"><ellipse class="b" cx="286" cy="200"/></g><g id="cb9"><ellipse class="b" cx="370" cy="210"/></g><g id="cb10"><ellipse class="b" cx="530" cy="208"/></g><g id="cb11"><ellipse class="b" cx="484" cy="235"/></g><g id="cb12"><ellipse class="b" cx="513" cy="235"/></g><g id="cb13"><ellipse class="b" cx="535" cy="255"/></g><g id="cb14"><ellipse class="b" cx="287" cy="305"/></g><g id="cb15"><ellipse class="b" cx="813" cy="147"/></g><g id="cb16"><ellipse class="b" cx="769" cy="172"/></g><g id="cb17"><ellipse class="b" cx="810" cy="190"/></g><g id="cb18"><ellipse class="b" cx="843" cy="205"/></g><g id="cb19"><ellipse class="b" cx="782" cy="220"/></g><g id="cb20"><ellipse class="b" cx="758" cy="238"/></g><g id="cb21"><ellipse class="b" cx="1021" cy="215"/></g><g id="cb22"><ellipse class="b" cx="1051" cy="225"/></g><g id="cb23"><ellipse class="b" cx="1104" cy="237"/></g><g id="cb24"><ellipse class="b" cx="1274" cy="191"/></g><g id="cb25"><ellipse class="b" cx="1416" cy="213"/></g><g id="cb26"><ellipse class="b" cx="1436" cy="67"/></g><g id="cb27"><ellipse class="b" cx="751" cy="291"/></g><g id="cb28"><ellipse class="b" cx="798" cy="277"/></g><g id="cb29"><ellipse class="b" cx="811" cy="306"/></g><g id="cb30"><ellipse class="b" cx="864" cy="305"/></g><g id="cb31"><ellipse class="b" cx="907" cy="349"/></g><g id="cb32"><ellipse class="b" cx="970" cy="341"/></g><g id="cb33"><ellipse class="b" cx="1378" cy="334"/></g><g id="cb34"><ellipse class="b" cx="1333" cy="372"/></g><g id="cb35"><ellipse class="b" cx="620" cy="433"/></g><g id="cb36"><ellipse class="b" cx="739" cy="433"/></g><g id="cb37"><ellipse class="b" cx="165" cy="390"/></g><g id="cb38"><ellipse class="b" cx="425" cy="443"/></g><g id="cb39"><ellipse class="b" cx="443" cy="468"/></g><g id="cb40"><ellipse class="b" cx="430" cy="495"/></g><g id="cb41"><ellipse class="b" cx="456" cy="511"/></g><g id="cb42"><ellipse class="b" cx="562" cy="544"/></g><g id="cb43"><ellipse class="b" cx="764" cy="503"/></g><g id="cb44"><ellipse class="b" cx="782" cy="536"/></g><g id="cb45"><ellipse class="b" cx="1224" cy="545"/></g><g id="cb46"><ellipse class="b" cx="1544" cy="563"/></g><g id="cb47"><ellipse class="b" cx="918" cy="600"/></g><g id="cb48"><ellipse class="b" cx="891" cy="612"/></g><g id="cb49"><ellipse class="b" cx="455" cy="667"/></g><g id="cb50"><ellipse class="b" cx="523" cy="674"/></g><g id="cb51"><ellipse class="b" cx="240" cy="715"/></g><g id="cb52"><ellipse class="b" cx="899" cy="727"/></g><g id="cb53"><ellipse class="b" cx="643" cy="760"/></g><g id="cb54"><ellipse class="b" cx="895" cy="806"/></g><g id="cb55"><ellipse class="b" cx="921" cy="823"/></g><g id="cb56"><ellipse class="b" cx="878" cy="837"/></g><g id="cb57"><ellipse class="b" cx="890" cy="865"/></g><g id="cb58"><ellipse class="b" cx="917" cy="880"/></g><g id="cb59"><ellipse class="b" cx="1033" cy="868"/></g><g id="cb60"><ellipse class="b" cx="954" cy="904"/></g><g id="cb61"><ellipse class="b" cx="978" cy="930"/></g><g id="cb62"><ellipse class="b" cx="784" cy="925"/></g><g id="cb63"><ellipse class="b" cx="764" cy="950"/></g><g id="cb64"><ellipse class="b" cx="811" cy="982"/></g><g id="cb65"><ellipse class="b" cx="758" cy="993"/></g><g id="cb66"><ellipse class="b" cx="733" cy="1017"/></g><g id="cb67"><ellipse class="b" cx="814" cy="1021"/></g><g id="cb68"><ellipse class="b" cx="254" cy="1007"/></g><g id="cb69"><ellipse class="b" cx="601" cy="1029"/></g>
<g id="cp1"><ellipse class="p" cx="974" cy="3"/></g><g id="cp2"><ellipse class="p" cx="373" cy="26"/></g><g id="cp3"><ellipse class="p" cx="1231" cy="46"/></g><g id="cp4"><ellipse class="p" cx="1234" cy="78"/></g><g id="cp5"><ellipse class="p" cx="367" cy="131"/></g><g id="cp6"><ellipse class="p" cx="534" cy="177"/></g><g id="cp7"><ellipse class="p" cx="757" cy="202"/></g><g id="cp8"><ellipse class="p" cx="259" cy="246"/></g><g id="cp9"><ellipse class="p" cx="899" cy="281"/></g><g id="cp10"><ellipse class="p" cx="309" cy="378"/></g><g id="cp11"><ellipse class="p" cx="202" cy="427"/></g><g id="cp12"><ellipse class="p" cx="1125" cy="468"/></g><g id="cp13"><ellipse class="p" cx="508" cy="524"/></g><g id="cp14"><ellipse class="p" cx="629" cy="552"/></g><g id="cp15"><ellipse class="p" cx="1454" cy="577"/></g><g id="cp16"><ellipse class="p" cx="301" cy="667"/></g><g id="cp17"><ellipse class="p" cx="237" cy="681"/></g><g id="cp18"><ellipse class="p" cx="677" cy="685"/></g><g id="cp19"><ellipse class="p" cx="955" cy="867"/></g><g id="cp20"><ellipse class="p" cx="905" cy="973"/></g><g id="cp21"><ellipse class="p" cx="971" cy="1000"/></g><g id="cp22"><ellipse class="p" cx="329" cy="1006"/></g>
<g id="cg1"><ellipse class="g" cx="445" cy="52"/></g><g id="cg2"><ellipse class="g" cx="1175" cy="36"/></g><g id="cg3"><ellipse class="g" cx="1131" cy="74"/></g><g id="cg4"><ellipse class="g" cx="1305" cy="79"/></g><g id="cg5"><ellipse class="g" cx="429" cy="156"/></g><g id="cg6"><ellipse class="g" cx="992" cy="144"/></g><g id="cg7"><ellipse class="g" cx="872" cy="214"/></g><g id="cg8"><ellipse class="g" cx="898" cy="219"/></g><g id="cg9"><ellipse class="g" cx="826" cy="268"/></g><g id="cg10"><ellipse class="g" cx="558" cy="297"/></g><g id="cg11"><ellipse class="g" cx="979" cy="284"/></g><g id="cg12"><ellipse class="g" cx="377" cy="314"/></g><g id="cg13"><ellipse class="g" cx="1246" cy="310"/></g><g id="cg14"><ellipse class="g" cx="1472" cy="322"/></g><g id="cg15"><ellipse class="g" cx="218" cy="312"/></g><g id="cg16"><ellipse class="g" cx="201" cy="338"/></g><g id="cg17"><ellipse class="g" cx="233" cy="343"/></g><g id="cg18"><ellipse class="g" cx="213" cy="369"/></g><g id="cg19"><ellipse class="g" cx="303" cy="449"/></g><g id="cg20"><ellipse class="g" cx="476" cy="415"/></g><g id="cg21"><ellipse class="g" cx="504" cy="439"/></g><g id="cg22"><ellipse class="g" cx="528" cy="445"/></g><g id="cg23"><ellipse class="g" cx="1222" cy="426"/></g><g id="cg24"><ellipse class="g" cx="1204" cy="442"/></g><g id="cg25"><ellipse class="g" cx="1543" cy="510"/></g><g id="cg26"><ellipse class="g" cx="728" cy="568"/></g><g id="cg27"><ellipse class="g" cx="231" cy="600"/></g><g id="cg28"><ellipse class="g" cx="205" cy="616"/></g><g id="cg29"><ellipse class="g" cx="205" cy="648"/></g><g id="cg30"><ellipse class="g" cx="815" cy="664"/></g><g id="cg31"><ellipse class="g" cx="1485" cy="628"/></g><g id="cg32"><ellipse class="g" cx="750" cy="732"/></g><g id="cg33"><ellipse class="g" cx="986" cy="848"/></g><g id="cg34"><ellipse class="g" cx="860" cy="973"/></g><g id="cg35"><ellipse class="g" cx="853" cy="1010"/></g><g id="cg36"><ellipse class="g" cx="885" cy="1013"/></g><g id="cg37"><ellipse class="g" cx="921" cy="1016"/></g><g id="cg38"><ellipse class="g" cx="900" cy="1040"/></g><g id="cg39"><ellipse class="g" cx="943" cy="1035"/></g><g id="cg40"><ellipse class="g" cx="758" cy="1024"/></g><g id="cg41"><ellipse class="g" cx="295" cy="1050"/></g><g id="cg42"><ellipse class="g" cx="361" cy="638"/></g><g id="cg43"><ellipse class="g" cx="388" cy="634"/></g><g id="cg44"><ellipse class="g" cx="350" cy="669"/></g><g id="cg45"><ellipse class="g" cx="377" cy="663"/></g><g id="cg46"><ellipse class="g" cx="405" cy="657"/></g><g id="cg47"><ellipse class="g" cx="338" cy="697"/></g><g id="cg48"><ellipse class="g" cx="366" cy="692"/></g><g id="cg49"><ellipse class="g" cx="394" cy="688"/></g><g id="cg50"><ellipse class="g" cx="327" cy="724"/></g><g id="cg51"><ellipse class="g" cx="355" cy="722"/></g><g id="cg52"><ellipse class="g" cx="383" cy="715"/></g><g id="cg53"><ellipse class="g" cx="345" cy="748"/></g><g id="cg54"><ellipse class="g" cx="373" cy="746"/></g>
<g id="cb70"><ellipse class="b" cx="433" cy="688"/></g><g id="cb71"><ellipse class="b" cx="429" cy="719"/></g>
<g id="cr1"><ellipse class="r" cx="735" cy="99"/></g><g id="cr2"><ellipse class="r" cx="714" cy="150"/></g><g id="cr3"><ellipse class="r" cx="1018" cy="158"/></g><g id="cr4"><ellipse class="r" cx="714" cy="244"/></g><g id="cr5"><ellipse class="r" cx="300" cy="220"/></g><g id="cr6"><ellipse class="r" cx="1016" cy="289"/></g><g id="cr7"><ellipse class="r" cx="845" cy="391"/></g><g id="cr8"><ellipse class="r" cx="87" cy="339"/></g><g id="cr9"><ellipse class="r" cx="1361" cy="386"/></g><g id="cr10"><ellipse class="r" cx="1281" cy="419"/></g><g id="cr11"><ellipse class="r" cx="372" cy="495"/></g><g id="cr12"><ellipse class="r" cx="702" cy="579"/></g><g id="cr13"><ellipse class="r" cx="232" cy="954"/></g><g id="cr14"><ellipse class="r" cx="503" cy="1030"/></g>
<g id="ca1"><ellipse class="a" cx="1083" cy="69"/></g><g id="ca2"><ellipse class="a" cx="1201" cy="60"/></g><g id="ca3"><ellipse class="a" cx="1329" cy="83"/></g><g id="ca4"><ellipse class="a" cx="1357" cy="74"/></g><g id="ca5"><ellipse class="a" cx="1252" cy="99"/></g><g id="ca6"><ellipse class="a" cx="1265" cy="156"/></g><g id="ca7"><ellipse class="a" cx="1409" cy="45"/></g><g id="ca8"><ellipse class="a" cx="1473" cy="40"/></g><g id="ca9"><ellipse class="a" cx="1540" cy="95"/></g><g id="ca10"><ellipse class="a" cx="1556" cy="68"/></g><g id="ca11"><ellipse class="a" cx="1405" cy="255"/></g><g id="ca12"><ellipse class="a" cx="1528" cy="341"/></g><g id="ca13"><ellipse class="a" cx="1555" cy="347"/></g><g id="ca14"><ellipse class="a" cx="1509" cy="361"/></g><g id="ca15"><ellipse class="a" cx="1490" cy="388"/></g><g id="ca16"><ellipse class="a" cx="1113" cy="407"/></g><g id="ca17"><ellipse class="a" cx="1217" cy="457"/></g><g id="ca18"><ellipse class="a" cx="1429" cy="492"/></g><g id="ca19"><ellipse class="a" cx="1424" cy="516"/></g><g id="ca20"><ellipse class="a" cx="1528" cy="534"/></g><g id="ca21"><ellipse class="a" cx="1010" cy="546"/></g><g id="ca22"><ellipse class="a" cx="971" cy="592"/></g><g id="ca23"><ellipse class="a" cx="1406" cy="612"/></g><g id="ca24"><ellipse class="a" cx="1472" cy="600"/></g><g id="ca25"><ellipse class="a" cx="1025" cy="627"/></g><g id="ca26"><ellipse class="a" cx="866" cy="632"/></g><g id="ca27"><ellipse class="a" cx="643" cy="656"/></g><g id="ca28"><ellipse class="a" cx="1130" cy="672"/></g><g id="ca29"><ellipse class="a" cx="1224" cy="694"/></g><g id="ca30"><ellipse class="a" cx="1388" cy="673"/></g><g id="ca31"><ellipse class="a" cx="1063" cy="717"/></g><g id="ca32"><ellipse class="a" cx="1103" cy="725"/></g><g id="ca33"><ellipse class="a" cx="1468" cy="682"/></g><g id="ca34"><ellipse class="a" cx="1554" cy="723"/></g><g id="ca35"><ellipse class="a" cx="1361" cy="756"/></g><g id="ca36"><ellipse class="a" cx="1040" cy="786"/></g><g id="ca37"><ellipse class="a" cx="1367" cy="811"/></g><g id="ca38"><ellipse class="a" cx="1143" cy="821"/></g><g id="ca39"><ellipse class="a" cx="1234" cy="820"/></g><g id="ca40"><ellipse class="a" cx="1535" cy="907"/></g><g id="ca41"><ellipse class="a" cx="1385" cy="911"/></g><g id="ca42"><ellipse class="a" cx="1444" cy="932"/></g><g id="ca43"><ellipse class="a" cx="1548" cy="939"/></g><g id="ca44"><ellipse class="a" cx="1289" cy="1003"/></g>
<g id="cy1"><ellipse class="y" cx="1503" cy="60"/></g><g id="cy2"><ellipse class="y" cx="1515" cy="188"/></g><g id="cy3"><ellipse class="y" cx="1011" cy="656"/></g><g id="cy4"><ellipse class="y" cx="1199" cy="661"/></g><g id="cy5"><ellipse class="y" cx="1008" cy="689"/></g><g id="cy6"><ellipse class="y" cx="1188" cy="716"/></g><g id="cy7"><ellipse class="y" cx="1347" cy="729"/></g><g id="cy8"><ellipse class="y" cx="1376" cy="781"/></g><g id="cy9"><ellipse class="y" cx="1188" cy="804"/></g><g id="cy10"><ellipse class="y" cx="1225" cy="795"/></g><g id="cy11"><ellipse class="y" cx="1302" cy="815"/></g><g id="cy12"><ellipse class="y" cx="1208" cy="838"/></g><g id="cy13"><ellipse class="y" cx="1466" cy="841"/></g><g id="cy14"><ellipse class="y" cx="1495" cy="832"/></g><g id="cy15"><ellipse class="y" cx="1521" cy="817"/></g><g id="cy16"><ellipse class="y" cx="1303" cy="863"/></g><g id="cy17"><ellipse class="y" cx="1333" cy="870"/></g><g id="cy18"><ellipse class="y" cx="1216" cy="875"/></g><g id="cy19"><ellipse class="y" cx="1246" cy="882"/></g><g id="cy20"><ellipse class="y" cx="1455" cy="903"/></g><g id="cy21"><ellipse class="y" cx="1481" cy="918"/></g><g id="cy22"><ellipse class="y" cx="1567" cy="909"/></g><g id="cy23"><ellipse class="y" cx="1376" cy="978"/></g><g id="cy24"><ellipse class="y" cx="1403" cy="998"/></g><g id="cy25"><ellipse class="y" cx="1437" cy="984"/></g>
<g id="ck1"><ellipse class="k" cx="1546" cy="17"/></g><g id="ck2"><ellipse class="k" cx="1522" cy="118"/></g><g id="ck3"><ellipse class="k" cx="1075" cy="627"/></g><g id="ck4"><ellipse class="k" cx="1224" cy="609"/></g><g id="ck5"><ellipse class="k" cx="1509" cy="634"/></g><g id="ck6"><ellipse class="k" cx="1185" cy="690"/></g><g id="ck7"><ellipse class="k" cx="1265" cy="697"/></g><g id="ck8"><ellipse class="k" cx="1301" cy="705"/></g><g id="ck9"><ellipse class="k" cx="1273" cy="728"/></g><g id="ck10"><ellipse class="k" cx="1443" cy="738"/></g><g id="ck11"><ellipse class="k" cx="1248" cy="749"/></g><g id="ck12"><ellipse class="k" cx="1294" cy="752"/></g><g id="ck13"><ellipse class="k" cx="1327" cy="752"/></g><g id="ck14"><ellipse class="k" cx="1427" cy="797"/></g><g id="ck15"><ellipse class="k" cx="1481" cy="797"/></g><g id="ck16"><ellipse class="k" cx="1385" cy="864"/></g><g id="ck17"><ellipse class="k" cx="127" cy="808"/></g>
</g>
<g transform="translate(1500 680) scale(.35 .3333)">
<g id="db1"><ellipse class="b" cx="1292" cy="75"/></g><g id="db2"><ellipse class="b" cx="1361" cy="73"/></g><g id="db3"><ellipse class="b" cx="1271" cy="126"/></g><g id="db4"><ellipse class="b" cx="1370" cy="172"/></g><g id="db5"><ellipse class="b" cx="1337" cy="205"/></g><g id="db6"><ellipse class="b" cx="1230" cy="229"/></g><g id="db7"><ellipse class="b" cx="1236" cy="333"/></g><g id="db8"><ellipse class="b" cx="1213" cy="391"/></g><g id="db9"><ellipse class="b" cx="1324" cy="402"/></g><g id="db10"><ellipse class="b" cx="1075" cy="458"/></g><g id="db11"><ellipse class="b" cx="1171" cy="484"/></g><g id="db12"><ellipse class="b" cx="1329" cy="545"/></g><g id="db13"><ellipse class="b" cx="1165" cy="579"/></g><g id="db14"><ellipse class="b" cx="1144" cy="627"/></g><g id="db15"><ellipse class="b" cx="1182" cy="715"/></g><g id="db16"><ellipse class="b" cx="1120" cy="774"/></g><g id="db17"><ellipse class="b" cx="1299" cy="731"/></g><g id="db18"><ellipse class="b" cx="1261" cy="898"/></g><g id="db19"><ellipse class="b" cx="1187" cy="982"/></g><g id="db20"><ellipse class="b" cx="24" cy="353"/></g><g id="db21"><ellipse class="b" cx="38" cy="463"/></g><g id="db22"><ellipse class="b" cx="62" cy="479"/></g><g id="db23"><ellipse class="b" cx="158" cy="493"/></g><g id="db24"><ellipse class="b" cx="137" cy="539"/></g><g id="db25"><ellipse class="b" cx="205" cy="561"/></g><g id="db26"><ellipse class="b" cx="209" cy="611"/></g><g id="db27"><ellipse class="b" cx="48" cy="593"/></g><g id="db28"><ellipse class="b" cx="98" cy="782"/></g><g id="db29"><ellipse class="b" cx="606" cy="875"/></g><g id="db30"><ellipse class="b" cx="560" cy="911"/></g><g id="db31"><ellipse class="b" cx="580" cy="936"/></g><g id="db32"><ellipse class="b" cx="652" cy="924"/></g><g id="db33"><ellipse class="b" cx="613" cy="966"/></g><g id="db34"><ellipse class="b" cx="624" cy="997"/></g><g id="db35"><ellipse class="b" cx="561" cy="1037"/></g><g id="db36"><ellipse class="b" cx="534" cy="1050"/></g><g id="db37"><ellipse class="b" cx="852" cy="863"/></g><g id="db38"><ellipse class="b" cx="807" cy="878"/></g><g id="db39"><ellipse class="b" cx="892" cy="878"/></g><g id="db40"><ellipse class="b" cx="835" cy="890"/></g><g id="db41"><ellipse class="b" cx="866" cy="895"/></g><g id="db42"><ellipse class="b" cx="788" cy="905"/></g><g id="db43"><ellipse class="b" cx="912" cy="901"/></g><g id="db44"><ellipse class="b" cx="890" cy="924"/></g><g id="db45"><ellipse class="b" cx="932" cy="927"/></g><g id="db46"><ellipse class="b" cx="772" cy="937"/></g><g id="db47"><ellipse class="b" cx="914" cy="951"/></g><g id="db48"><ellipse class="b" cx="888" cy="967"/></g><g id="db49"><ellipse class="b" cx="932" cy="977"/></g><g id="db50"><ellipse class="b" cx="768" cy="975"/></g><g id="db51"><ellipse class="b" cx="783" cy="1004"/></g><g id="db52"><ellipse class="b" cx="897" cy="999"/></g><g id="db53"><ellipse class="b" cx="817" cy="1023"/></g><g id="db54"><ellipse class="b" cx="871" cy="1015"/></g><g id="db55"><ellipse class="b" cx="846" cy="1033"/></g><g id="db56"><ellipse class="b" cx="789" cy="1037"/></g><g id="db57"><ellipse class="b" cx="897" cy="1039"/></g><g id="db58"><ellipse class="b" cx="827" cy="1048"/></g><g id="db59"><ellipse class="b" cx="867" cy="1048"/></g>
<g id="dp1"><ellipse class="p" cx="1391" cy="124"/></g><g id="dp2"><ellipse class="p" cx="1246" cy="152"/></g><g id="dp3"><ellipse class="p" cx="1360" cy="329"/></g><g id="dp4"><ellipse class="p" cx="1296" cy="441"/></g><g id="dp5"><ellipse class="p" cx="1107" cy="391"/></g><g id="dp6"><ellipse class="p" cx="1051" cy="588"/></g><g id="dp7"><ellipse class="p" cx="1337" cy="636"/></g><g id="dp8"><ellipse class="p" cx="1200" cy="881"/></g><g id="dp9"><ellipse class="p" cx="103" cy="807"/></g><g id="dp10"><ellipse class="p" cx="924" cy="1012"/></g>
<g id="dg1"><ellipse class="g" cx="1331" cy="119"/></g><g id="dg2"><ellipse class="g" cx="1311" cy="155"/></g><g id="dg3"><ellipse class="g" cx="1275" cy="200"/></g><g id="dg4"><ellipse class="g" cx="1359" cy="276"/></g><g id="dg5"><ellipse class="g" cx="1405" cy="356"/></g><g id="dg6"><ellipse class="g" cx="1270" cy="384"/></g><g id="dg7"><ellipse class="g" cx="1128" cy="446"/></g><g id="dg8"><ellipse class="g" cx="1110" cy="570"/></g><g id="dg9"><ellipse class="g" cx="1103" cy="605"/></g><g id="dg10"><ellipse class="g" cx="1362" cy="588"/></g><g id="dg11"><ellipse class="g" cx="1124" cy="720"/></g><g id="dg12"><ellipse class="g" cx="1216" cy="935"/></g><g id="dg13"><ellipse class="g" cx="128" cy="578"/></g><g id="dg14"><ellipse class="g" cx="3" cy="574"/></g><g id="dg15"><ellipse class="g" cx="202" cy="939"/></g><g id="dg16"><ellipse class="g" cx="36" cy="1045"/></g><g id="dg17"><ellipse class="g" cx="534" cy="993"/></g><g id="dg18"><ellipse class="g" cx="605" cy="1050"/></g><g id="dg19"><ellipse class="g" cx="834" cy="958"/></g>
<g id="dr1"><ellipse class="r" cx="1186" cy="298"/></g><g id="dr2"><ellipse class="r" cx="1229" cy="447"/></g><g id="dr3"><ellipse class="r" cx="1199" cy="627"/></g><g id="dr4"><ellipse class="r" cx="1177" cy="770"/></g><g id="dr5"><ellipse class="r" cx="1169" cy="1035"/></g><g id="dr6"><ellipse class="r" cx="623" cy="904"/></g><g id="dr7"><ellipse class="r" cx="569" cy="1004"/></g><g id="dr8"><ellipse class="r" cx="7" cy="683"/></g>
<g id="da1"><ellipse class="a" cx="72" cy="6"/></g><g id="da2"><ellipse class="a" cx="182" cy="11"/></g><g id="da3"><ellipse class="a" cx="666" cy="16"/></g><g id="da4"><ellipse class="a" cx="729" cy="11"/></g><g id="da5"><ellipse class="a" cx="484" cy="37"/></g><g id="da6"><ellipse class="a" cx="161" cy="45"/></g><g id="da7"><ellipse class="a" cx="225" cy="41"/></g><g id="da8"><ellipse class="a" cx="17" cy="58"/></g><g id="da9"><ellipse class="a" cx="345" cy="75"/></g><g id="da10"><ellipse class="a" cx="48" cy="92"/></g><g id="da11"><ellipse class="a" cx="20" cy="99"/></g><g id="da12"><ellipse class="a" cx="766" cy="67"/></g><g id="da13"><ellipse class="a" cx="698" cy="97"/></g><g id="da14"><ellipse class="a" cx="254" cy="119"/></g><g id="da15"><ellipse class="a" cx="636" cy="130"/></g><g id="da16"><ellipse class="a" cx="194" cy="155"/></g><g id="da17"><ellipse class="a" cx="222" cy="158"/></g><g id="da18"><ellipse class="a" cx="110" cy="162"/></g><g id="da19"><ellipse class="a" cx="73" cy="183"/></g><g id="da20"><ellipse class="a" cx="478" cy="169"/></g><g id="da21"><ellipse class="a" cx="338" cy="193"/></g><g id="da22"><ellipse class="a" cx="401" cy="192"/></g><g id="da23"><ellipse class="a" cx="538" cy="184"/></g><g id="da24"><ellipse class="a" cx="462" cy="197"/></g><g id="da25"><ellipse class="a" cx="45" cy="241"/></g><g id="da26"><ellipse class="a" cx="17" cy="280"/></g><g id="da27"><ellipse class="a" cx="505" cy="277"/></g><g id="da28"><ellipse class="a" cx="481" cy="296"/></g><g id="da29"><ellipse class="a" cx="371" cy="301"/></g><g id="da30"><ellipse class="a" cx="147" cy="295"/></g><g id="da31"><ellipse class="a" cx="43" cy="327"/></g><g id="da32"><ellipse class="a" cx="255" cy="329"/></g><g id="da33"><ellipse class="a" cx="195" cy="341"/></g><g id="da34"><ellipse class="a" cx="231" cy="347"/></g><g id="da35"><ellipse class="a" cx="261" cy="359"/></g><g id="da36"><ellipse class="a" cx="292" cy="366"/></g><g id="da37"><ellipse class="a" cx="401" cy="367"/></g><g id="da38"><ellipse class="a" cx="163" cy="391"/></g><g id="da39"><ellipse class="a" cx="120" cy="419"/></g><g id="da40"><ellipse class="a" cx="181" cy="422"/></g><g id="da41"><ellipse class="a" cx="75" cy="448"/></g><g id="da42"><ellipse class="a" cx="152" cy="445"/></g><g id="da43"><ellipse class="a" cx="121" cy="462"/></g><g id="da44"><ellipse class="a" cx="3" cy="491"/></g><g id="da45"><ellipse class="a" cx="159" cy="531"/></g><g id="da46"><ellipse class="a" cx="601" cy="526"/></g><g id="da47"><ellipse class="a" cx="311" cy="886"/></g><g id="da48"><ellipse class="a" cx="122" cy="878"/></g>
<g id="dy1"><ellipse class="y" cx="13" cy="22"/></g><g id="dy2"><ellipse class="y" cx="312" cy="44"/></g><g id="dy3"><ellipse class="y" cx="341" cy="45"/></g><g id="dy4"><ellipse class="y" cx="510" cy="31"/></g><g id="dy5"><ellipse class="y" cx="699" cy="15"/></g><g id="dy6"><ellipse class="y" cx="767" cy="36"/></g><g id="dy7"><ellipse class="y" cx="727" cy="64"/></g><g id="dy8"><ellipse class="y" cx="745" cy="90"/></g><g id="dy9"><ellipse class="y" cx="149" cy="101"/></g><g id="dy10"><ellipse class="y" cx="209" cy="105"/></g><g id="dy11"><ellipse class="y" cx="222" cy="128"/></g><g id="dy12"><ellipse class="y" cx="709" cy="127"/></g><g id="dy13"><ellipse class="y" cx="739" cy="127"/></g><g id="dy14"><ellipse class="y" cx="700" cy="156"/></g><g id="dy15"><ellipse class="y" cx="62" cy="141"/></g><g id="dy16"><ellipse class="y" cx="249" cy="176"/></g><g id="dy17"><ellipse class="y" cx="380" cy="170"/></g><g id="dy18"><ellipse class="y" cx="507" cy="177"/></g><g id="dy19"><ellipse class="y" cx="588" cy="183"/></g><g id="dy20"><ellipse class="y" cx="547" cy="146"/></g><g id="dy21"><ellipse class="y" cx="497" cy="208"/></g><g id="dy22"><ellipse class="y" cx="248" cy="224"/></g><g id="dy23"><ellipse class="y" cx="541" cy="232"/></g><g id="dy24"><ellipse class="y" cx="583" cy="230"/></g><g id="dy25"><ellipse class="y" cx="663" cy="226"/></g><g id="dy26"><ellipse class="y" cx="339" cy="289"/></g><g id="dy27"><ellipse class="y" cx="312" cy="310"/></g><g id="dy28"><ellipse class="y" cx="337" cy="328"/></g><g id="dy29"><ellipse class="y" cx="518" cy="311"/></g><g id="dy30"><ellipse class="y" cx="480" cy="327"/></g><g id="dy31"><ellipse class="y" cx="187" cy="381"/></g><g id="dy32"><ellipse class="y" cx="264" cy="391"/></g><g id="dy33"><ellipse class="y" cx="233" cy="407"/></g><g id="dy34"><ellipse class="y" cx="372" cy="380"/></g><g id="dy35"><ellipse class="y" cx="389" cy="407"/></g><g id="dy36"><ellipse class="y" cx="203" cy="430"/></g><g id="dy37"><ellipse class="y" cx="179" cy="509"/></g><g id="dy38"><ellipse class="y" cx="143" cy="578"/></g><g id="dy39"><ellipse class="y" cx="18" cy="704"/></g><g id="dy40"><ellipse class="y" cx="133" cy="847"/></g><g id="dy41"><ellipse class="y" cx="151" cy="881"/></g><g id="dy42"><ellipse class="y" cx="111" cy="910"/></g>
<g id="dk1"><ellipse class="k" cx="365" cy="9"/></g><g id="dk2"><ellipse class="k" cx="575" cy="3"/></g><g id="dk3"><ellipse class="k" cx="591" cy="26"/></g><g id="dk4"><ellipse class="k" cx="576" cy="59"/></g><g id="dk5"><ellipse class="k" cx="69" cy="66"/></g><g id="dk6"><ellipse class="k" cx="192" cy="66"/></g><g id="dk7"><ellipse class="k" cx="427" cy="87"/></g><g id="dk8"><ellipse class="k" cx="124" cy="91"/></g><g id="dk9"><ellipse class="k" cx="354" cy="106"/></g><g id="dk10"><ellipse class="k" cx="424" cy="118"/></g><g id="dk11"><ellipse class="k" cx="121" cy="127"/></g><g id="dk12"><ellipse class="k" cx="290" cy="118"/></g><g id="dk13"><ellipse class="k" cx="375" cy="130"/></g><g id="dk14"><ellipse class="k" cx="525" cy="128"/></g><g id="dk15"><ellipse class="k" cx="234" cy="199"/></g><g id="dk16"><ellipse class="k" cx="365" cy="202"/></g><g id="dk17"><ellipse class="k" cx="178" cy="241"/></g><g id="dk18"><ellipse class="k" cx="141" cy="262"/></g><g id="dk19"><ellipse class="k" cx="299" cy="268"/></g><g id="dk20"><ellipse class="k" cx="68" cy="302"/></g><g id="dk21"><ellipse class="k" cx="15" cy="408"/></g><g id="dk22"><ellipse class="k" cx="32" cy="815"/></g>
</g>
</g>
</svg>
